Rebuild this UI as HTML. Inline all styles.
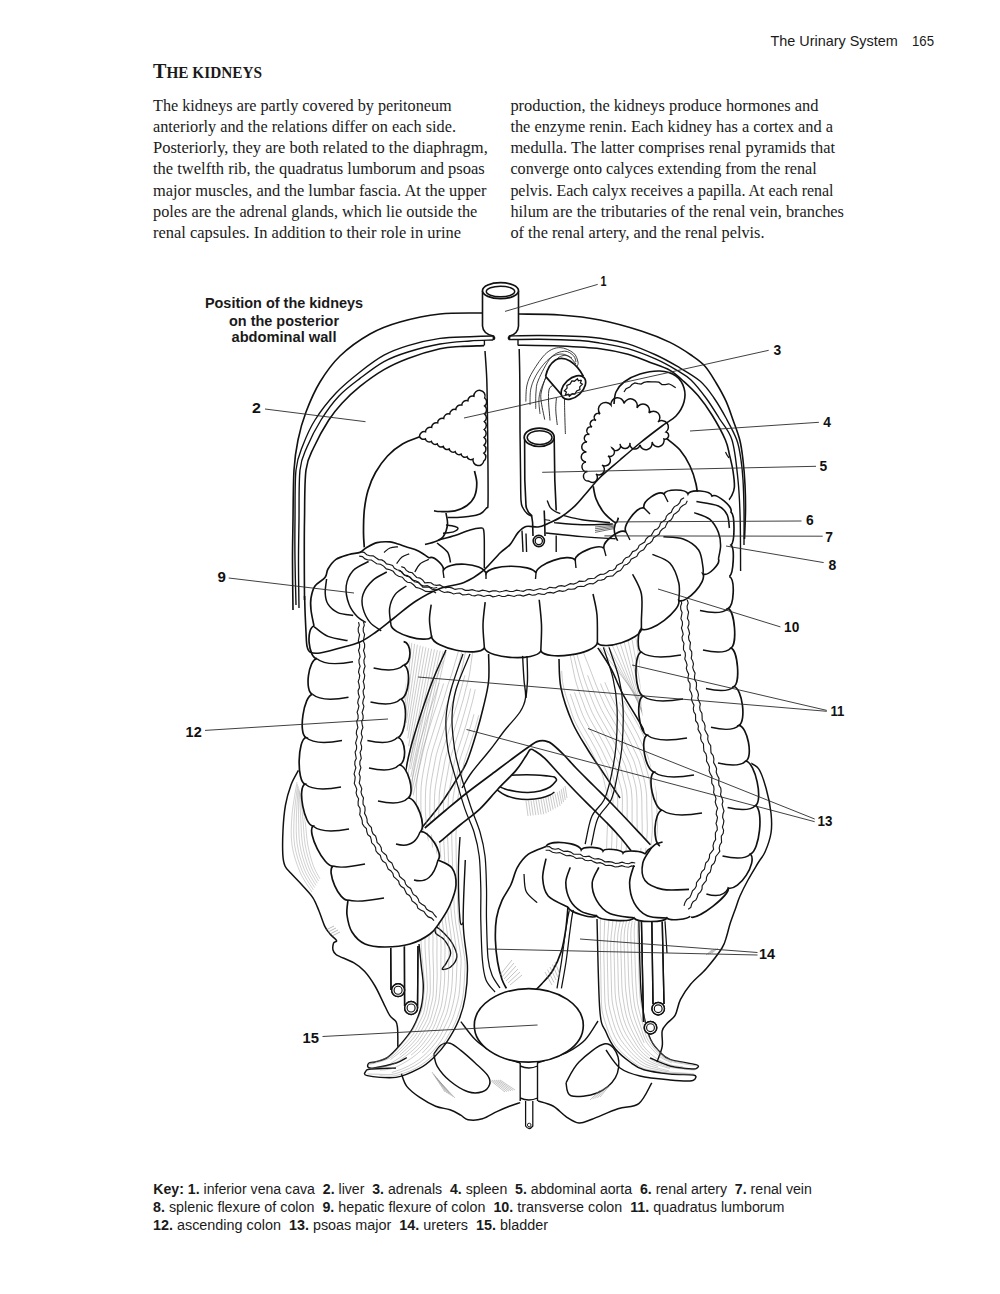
<!DOCTYPE html>
<html><head><meta charset="utf-8"><title>The Urinary System - The kidneys</title>
<style>
html,body{margin:0;padding:0;background:#fff;}
body{width:1000px;height:1294px;overflow:hidden;}
svg{display:block;}
.ser{font-family:"Liberation Serif",serif;fill:#1a1a1a;}
.san{font-family:"Liberation Sans",sans-serif;fill:#1a1a1a;}
.lab{font-family:"Liberation Sans",sans-serif;font-weight:bold;font-size:14px;fill:#111;}
</style></head>
<body>
<svg width="1000" height="1294" viewBox="0 0 1000 1294">
<rect width="1000" height="1294" fill="#fff"/>
<g class="san" font-size="14.2">
<text x="770.5" y="45.9" textLength="127.3" lengthAdjust="spacingAndGlyphs">The Urinary System</text>
<text x="912" y="45.9" textLength="22" lengthAdjust="spacingAndGlyphs">165</text>
</g>
<text class="ser" x="153" y="78" font-weight="bold" textLength="109" lengthAdjust="spacingAndGlyphs"><tspan font-size="21">T</tspan><tspan font-size="16">HE KIDNEYS</tspan></text>
<g class="ser" font-size="17">
<text x="153" y="110.8" textLength="298.7" lengthAdjust="spacingAndGlyphs">The kidneys are partly covered by peritoneum</text>
<text x="153" y="132" textLength="303" lengthAdjust="spacingAndGlyphs">anteriorly and the relations differ on each side.</text>
<text x="153" y="153.1" textLength="334.8" lengthAdjust="spacingAndGlyphs">Posteriorly, they are both related to the diaphragm,</text>
<text x="153" y="174.3" textLength="331.8" lengthAdjust="spacingAndGlyphs">the twelfth rib, the quadratus lumborum and psoas</text>
<text x="153" y="195.5" textLength="333.4" lengthAdjust="spacingAndGlyphs">major muscles, and the lumbar fascia. At the upper</text>
<text x="153" y="216.6" textLength="324.3" lengthAdjust="spacingAndGlyphs">poles are the adrenal glands, which lie outside the</text>
<text x="153" y="237.8" textLength="308" lengthAdjust="spacingAndGlyphs">renal capsules. In addition to their role in urine</text>
<text x="510.4" y="110.8" textLength="308" lengthAdjust="spacingAndGlyphs">production, the kidneys produce hormones and</text>
<text x="510.4" y="132" textLength="322.6" lengthAdjust="spacingAndGlyphs">the enzyme renin. Each kidney has a cortex and a</text>
<text x="510.4" y="153.1" textLength="324.6" lengthAdjust="spacingAndGlyphs">medulla. The latter comprises renal pyramids that</text>
<text x="510.4" y="174.3" textLength="306.3" lengthAdjust="spacingAndGlyphs">converge onto calyces extending from the renal</text>
<text x="510.4" y="195.5" textLength="323.1" lengthAdjust="spacingAndGlyphs">pelvis. Each calyx receives a papilla. At each renal</text>
<text x="510.4" y="216.6" textLength="333.6" lengthAdjust="spacingAndGlyphs">hilum are the tributaries of the renal vein, branches</text>
<text x="510.4" y="237.8" textLength="254.1" lengthAdjust="spacingAndGlyphs">of the renal artery, and the renal pelvis.</text>
</g>
<g class="san" font-weight="bold" font-size="14.6" text-anchor="middle">
<text x="284" y="307.5" textLength="158.2" lengthAdjust="spacingAndGlyphs">Position of the kidneys</text>
<text x="284" y="325.6" textLength="110" lengthAdjust="spacingAndGlyphs">on the posterior</text>
<text x="284" y="342.4" textLength="105" lengthAdjust="spacingAndGlyphs">abdominal wall</text>
</g>
<path d="M482.0,313.0 C475.0,313.2 453.7,312.5 440.0,314.0 C426.3,315.5 411.7,318.7 400.0,322.0 C388.3,325.3 380.0,328.3 370.0,334.0 C360.0,339.7 348.3,348.0 340.0,356.0 C331.7,364.0 325.7,372.7 320.0,382.0 C314.3,391.3 309.7,402.3 306.0,412.0 C302.3,421.7 300.0,430.3 298.0,440.0 C296.0,449.7 294.8,456.7 294.0,470.0 C293.2,483.3 293.2,505.0 293.0,520.0 C292.8,535.0 292.5,545.0 292.5,560.0 C292.5,575.0 292.9,601.7 293.0,610.0" fill="none" stroke="#111" stroke-width="1.61" />
<path d="M493.0,336.0 C489.2,336.1 478.8,336.4 470.0,336.8 C461.2,337.2 450.3,336.9 440.0,338.4 C429.7,339.9 417.3,342.8 408.0,345.6 C398.7,348.4 392.0,350.8 384.0,355.2 C376.0,359.6 368.0,365.7 360.0,372.0 C352.0,378.3 343.5,385.0 336.0,393.0 C328.5,401.0 320.5,411.3 315.0,420.0 C309.5,428.7 306.2,436.7 303.0,445.0 C299.8,453.3 297.3,457.5 296.0,470.0 C294.7,482.5 295.2,505.0 295.0,520.0 C294.8,535.0 294.8,545.8 295.0,560.0 C295.2,574.2 295.8,597.5 296.0,605.0" fill="none" stroke="#111" stroke-width="1.38" />
<path d="M493.0,340.0 C489.2,340.2 478.8,340.3 470.0,341.0 C461.2,341.7 450.3,342.2 440.0,344.0 C429.7,345.8 417.3,349.1 408.0,352.0 C398.7,354.9 392.0,357.2 384.0,361.6 C376.0,366.0 367.5,372.7 360.0,378.4 C352.5,384.1 345.5,389.1 339.0,396.0 C332.5,402.9 326.3,411.5 321.0,420.0 C315.7,428.5 310.5,438.7 307.0,447.0 C303.5,455.3 301.3,457.8 300.0,470.0 C298.7,482.2 299.2,505.0 299.0,520.0 C298.8,535.0 298.5,545.3 298.5,560.0 C298.5,574.7 298.9,600.0 299.0,608.0" fill="none" stroke="#111" stroke-width="1.38" />
<path d="M484.0,345.6 C480.0,345.8 467.3,346.0 460.0,346.5 C452.7,347.0 448.7,346.8 440.0,348.8 C431.3,350.8 417.3,354.9 408.0,358.4 C398.7,361.9 392.0,364.9 384.0,369.6 C376.0,374.3 367.0,380.8 360.0,386.4 C353.0,392.0 347.2,397.6 342.0,403.2 C336.8,408.8 333.5,412.7 328.8,420.0 C324.1,427.3 317.8,438.7 314.0,447.0 C310.2,455.3 307.6,457.8 306.0,470.0 C304.4,482.2 304.8,505.0 304.5,520.0 C304.2,535.0 304.3,546.7 304.3,560.0 C304.3,573.3 304.5,593.3 304.5,600.0" fill="none" stroke="#111" stroke-width="1.61" />
<path d="M519.0,314.0 C525.8,314.2 546.5,314.0 560.0,315.0 C573.5,316.0 586.3,317.3 600.0,320.0 C613.7,322.7 630.3,327.5 642.0,331.2 C653.7,334.9 661.8,338.4 670.0,342.4 C678.2,346.4 685.2,351.0 691.0,355.0 C696.8,359.0 700.8,361.5 705.0,366.2 C709.2,370.9 712.7,377.2 716.2,383.0 C719.7,388.8 723.2,395.0 726.0,401.2 C728.8,407.4 730.7,413.5 733.0,420.0 C735.3,426.5 738.1,433.3 739.8,440.0 C741.5,446.7 742.1,452.5 743.0,460.0 C743.9,467.5 744.6,476.7 745.0,485.0 C745.4,493.3 745.6,501.0 745.5,510.0 C745.4,519.0 744.7,534.2 744.5,539.0" fill="none" stroke="#111" stroke-width="1.61" />
<path d="M509.6,336.0 C514.7,335.9 528.3,335.4 540.0,335.5 C551.7,335.6 570.0,336.1 580.0,336.5 C590.0,336.9 592.0,337.0 600.0,338.2 C608.0,339.4 618.7,341.0 628.0,343.8 C637.3,346.6 647.8,351.3 656.0,355.0 C664.2,358.7 669.7,361.9 677.0,366.2 C684.3,370.5 693.8,375.7 700.0,381.0 C706.2,386.3 709.7,391.8 714.0,398.0 C718.3,404.2 722.2,411.0 726.0,418.0 C729.8,425.0 734.3,433.0 736.8,440.0 C739.3,447.0 740.0,453.3 741.0,460.0 C742.0,466.7 742.5,471.7 743.0,480.0 C743.5,488.3 743.8,499.2 744.0,510.0 C744.2,520.8 744.0,539.2 744.0,545.0" fill="none" stroke="#111" stroke-width="1.38" />
<path d="M509.6,339.6 C514.7,339.5 528.3,339.1 540.0,339.2 C551.7,339.3 570.0,339.9 580.0,340.5 C590.0,341.1 592.0,341.7 600.0,343.1 C608.0,344.5 618.7,346.0 628.0,348.7 C637.3,351.4 647.8,355.6 656.0,359.2 C664.2,362.8 671.2,366.9 677.0,370.4 C682.8,373.9 686.2,375.4 691.0,380.0 C695.8,384.6 701.3,391.7 706.0,398.0 C710.7,404.3 714.7,411.0 719.0,418.0 C723.3,425.0 728.8,429.7 732.0,440.0 C735.2,450.3 736.6,466.7 738.0,480.0 C739.4,493.3 739.8,504.8 740.2,520.0 C740.6,535.2 740.5,562.5 740.6,571.0" fill="none" stroke="#111" stroke-width="1.38" />
<path d="M518.0,345.2 C525.0,345.3 546.3,345.4 560.0,346.0 C573.7,346.6 588.7,347.3 600.0,348.7 C611.3,350.1 619.8,352.1 628.0,354.3 C636.2,356.5 642.0,359.3 649.0,362.0 C656.0,364.7 664.2,367.1 670.0,370.4 C675.8,373.7 679.3,377.4 684.0,381.6 C688.7,385.8 693.3,390.0 698.0,395.6 C702.7,401.2 707.4,407.6 712.0,415.0 C716.6,422.4 722.5,433.3 725.4,440.0 C728.3,446.7 728.2,449.8 729.5,455.0 C730.8,460.2 732.2,465.7 733.0,471.0 C733.8,476.3 734.6,482.8 734.4,487.0 C734.1,491.2 732.7,493.5 731.5,496.0 C730.3,498.5 727.8,501.0 727.0,502.0" fill="none" stroke="#111" stroke-width="1.61" />
<path d="M725.5,452.0 C725.8,452.5 726.4,454.0 727.0,455.0 C727.6,456.0 728.7,457.5 729.0,458.0" fill="none" stroke="#111" stroke-width="1.26" />
<path d="M482.5,291 L482.5,326 Q483,334 493.4,336 L493.4,340 M518.5,291 L518.5,326 Q518,334 509.6,336 L509.6,340" fill="none" stroke="#111" stroke-width="1.61"/>
<ellipse cx="500.5" cy="290.7" rx="18" ry="8" fill="#fff" stroke="#111" stroke-width="1.72"/>
<ellipse cx="500.5" cy="291.5" rx="14.2" ry="5.3" fill="none" stroke="#111" stroke-width="1.49"/>
<line x1="484.4" y1="340" x2="484.4" y2="345.5" stroke="#111" stroke-width="1.38"/>
<line x1="518" y1="340" x2="518" y2="345.5" stroke="#111" stroke-width="1.38"/>
<path d="M493.4,336 Q496,338 493.4,340 M509.6,336 Q507,338 509.6,340" fill="none" stroke="#111" stroke-width="1.38"/>
<path d="M485.0,351.0 C485.3,355.8 486.4,368.5 486.8,380.0 C487.2,391.5 487.3,405.0 487.5,420.0 C487.7,435.0 487.9,456.0 488.0,470.0 C488.1,484.0 488.2,497.7 488.0,504.0 C487.8,510.3 487.8,506.3 486.5,508.0 C485.2,509.7 483.1,512.6 480.0,514.0 C476.9,515.4 472.2,515.9 468.0,516.5 C463.8,517.1 458.4,517.3 455.0,517.5 C451.6,517.7 448.8,517.5 447.5,517.5" fill="none" stroke="#111" stroke-width="1.49" />
<path d="M519.2,349.0 C519.3,354.2 519.7,366.5 519.8,380.0 C519.9,393.5 519.9,415.0 520.0,430.0 C520.1,445.0 520.3,458.3 520.5,470.0 C520.7,481.7 520.6,494.1 521.0,500.4 C521.4,506.7 522.0,505.8 523.0,508.0 C524.0,510.2 525.5,512.1 527.0,513.5 C528.5,514.9 531.2,516.0 532.0,516.5" fill="none" stroke="#111" stroke-width="1.49" />
<path d="M524.6,437.5 L524.8,480 L526,506 Q527,512 531.6,515.5 L532.6,522.5 L533,536 M554.2,437.5 L554.8,480 L556.2,510.5 M544.2,510.5 L544.7,522.5 L545,536" fill="none" stroke="#111" stroke-width="1.61"/>
<ellipse cx="539.2" cy="437.3" rx="15" ry="9.2" fill="#fff" stroke="#111" stroke-width="1.72"/>
<ellipse cx="539.6" cy="437.6" rx="12.4" ry="6.9" fill="none" stroke="#111" stroke-width="1.49"/>
<circle cx="538.8" cy="541" r="5.6" fill="#fff" stroke="#111" stroke-width="1.61"/>
<circle cx="538.8" cy="541" r="3.6" fill="none" stroke="#111" stroke-width="1.26"/>
<path d="M547.2,500.4 C547.7,501.6 548.9,505.5 550.2,507.4 C551.5,509.2 553.5,510.5 555.2,511.5 C556.9,512.5 559.4,513.2 560.3,513.5" fill="none" stroke="#111" stroke-width="1.38" />
<path d="M544.2,519.5 C545.2,519.7 549.2,520.3 550.2,520.5" fill="none" stroke="#111" stroke-width="1.15" />
<line x1="522" y1="530.6" x2="523" y2="552" stroke="#111" stroke-width="1.38"/>
<line x1="526" y1="533.6" x2="526.6" y2="552" stroke="#111" stroke-width="1.38"/>
<line x1="556.2" y1="535.6" x2="556.2" y2="552" stroke="#111" stroke-width="1.38"/>
<path d="M525.8,401.6 C526.0,398.8 525.8,390.1 527.0,385.0 C528.2,379.9 529.8,376.3 533.0,371.0 C536.2,365.7 542.0,356.9 546.5,353.0 C551.0,349.1 555.5,347.6 560.0,347.6 C564.5,347.6 570.5,350.6 573.5,353.0 C576.5,355.4 577.4,359.8 578.0,362.0 C578.6,364.2 577.2,365.8 577.0,366.5" fill="none" stroke="#1e1e1e" stroke-width="0.85" />
<path d="M535.7,408.8 C535.8,406.0 535.5,396.8 536.0,392.0 C536.5,387.2 535.9,385.8 538.4,380.0 C540.9,374.2 546.6,362.3 551.0,357.5 C555.4,352.7 560.8,351.5 564.5,351.2 C568.2,350.9 571.6,353.9 573.5,355.7 C575.4,357.5 575.6,360.9 576.0,362.0" fill="none" stroke="#1e1e1e" stroke-width="0.85" />
<path d="M544.7,419.6 C544.1,416.3 541.5,405.1 541.0,400.0 C540.5,394.9 540.8,393.7 542.0,389.0 C543.2,384.3 545.3,377.2 548.0,372.0 C550.7,366.8 554.7,360.7 558.0,358.0 C561.3,355.3 565.0,355.0 568.0,356.0 C571.0,357.0 574.7,362.7 576.0,364.0" fill="none" stroke="#1e1e1e" stroke-width="0.90" />
<path d="M550.0,420.5 C549.8,417.1 548.6,405.2 548.5,400.0 C548.4,394.8 548.5,391.4 549.2,389.0 C549.9,386.6 552.2,386.0 552.8,385.4" fill="none" stroke="#1e1e1e" stroke-width="0.90" />
<path d="M530.0,405.0 C530.2,402.2 529.7,393.5 531.0,388.0 C532.3,382.5 534.8,377.0 538.0,372.0 C541.2,367.0 546.0,361.0 550.0,358.0 C554.0,355.0 558.3,354.0 562.0,354.0 C565.7,354.0 570.3,357.3 572.0,358.0" fill="none" stroke="#1e1e1e" stroke-width="0.80" />
<path d="M540.0,414.0 C539.8,411.3 538.5,403.0 539.0,398.0 C539.5,393.0 540.8,389.0 543.0,384.0 C545.2,379.0 548.7,371.7 552.0,368.0 C555.3,364.3 561.2,363.0 563.0,362.0" fill="none" stroke="#1e1e1e" stroke-width="0.80" />
<path d="M557.3,425.0 C557.0,422.5 555.9,414.5 555.8,410.0 C555.6,405.5 556.3,400.0 556.4,398.0" fill="none" stroke="#1e1e1e" stroke-width="0.90" />
<path d="M565.4,434.0 C565.3,430.8 564.9,421.0 564.8,415.0 C564.6,409.0 564.5,400.8 564.5,398.0" fill="none" stroke="#1e1e1e" stroke-width="0.90" />
<path d="M545.6,376.4 Q548,365 555.5,360 Q562,356.5 570,361 Q578,366 583.4,376.4 L562.7,396.2 Z" fill="#fff" stroke="none"/>
<path d="M545.6,376.4 Q548,365 555.5,360 Q562,356.5 570,361 Q578,366 583.4,376.4 M545.6,376.4 L562.7,396.2" fill="none" stroke="#111" stroke-width="1.72"/>
<ellipse cx="573.4" cy="387.5" rx="14.5" ry="9" transform="rotate(-43 573.4 387.5)" fill="#fff" stroke="#111" stroke-width="1.72"/>
<polyline points="584.4,387.5 581.6,389.0 582.3,391.1 578.4,391.4 576.8,393.4 573.4,392.3 570.0,393.4 568.4,391.4 564.5,391.1 565.2,389.0 562.4,387.5 565.2,386.0 564.5,383.9 568.4,383.6 570.0,381.6 573.4,382.7 576.8,381.6 578.4,383.6 582.3,383.9 581.6,386.0 584.4,387.5" transform="rotate(-43 573.4 387.5)" fill="none" stroke="#111" stroke-width="1.26"/>
<path d="M420.5,436.5 C417.5,437.8 408.0,440.8 402.5,444.0 C397.0,447.2 392.0,451.2 387.5,456.0 C383.0,460.8 378.8,466.8 375.5,472.5 C372.2,478.2 369.9,484.2 368.0,490.5 C366.1,496.8 365.1,503.0 364.3,510.0 C363.6,517.0 363.5,526.2 363.5,532.5 C363.5,538.8 364.2,545.0 364.3,547.5" fill="none" stroke="#111" stroke-width="1.72" />
<path d="M474.5,471.0 C474.9,473.0 476.8,478.8 476.8,483.0 C476.8,487.2 476.1,492.8 474.5,496.5 C472.9,500.2 470.2,503.1 467.0,505.5 C463.8,507.9 459.5,509.8 455.0,510.8 C450.5,511.8 443.5,511.5 440.0,511.5 C436.5,511.5 435.0,510.9 434.0,510.8" fill="none" stroke="#111" stroke-width="1.72" />
<path d="M446.0,513.0 C446.2,515.0 448.0,521.0 447.5,525.0 C447.0,529.0 445.0,534.2 443.0,537.0 C441.0,539.8 438.5,540.2 435.5,541.5 C432.5,542.8 426.8,544.0 425.0,544.5" fill="none" stroke="#111" stroke-width="1.61" />
<path d="M446.0,525.0 C447.5,525.2 453.0,525.9 455.0,526.5 C457.0,527.1 458.2,527.8 458.0,528.7 C457.8,529.6 456.0,531.0 453.5,531.8 C451.0,532.6 444.8,533.0 443.0,533.3" fill="none" stroke="#111" stroke-width="1.38" />
<path d="M438.5,540.0 C441.2,539.2 449.8,537.2 455.0,535.5 C460.2,533.8 465.8,531.2 470.0,530.0 C474.2,528.8 478.2,528.1 480.5,528.0 C482.8,527.9 482.9,527.5 483.5,529.5 C484.1,531.5 484.2,533.2 484.3,540.0 C484.4,546.8 484.3,565.0 484.3,570.0" fill="none" stroke="#111" stroke-width="1.49" />
<path d="M437.0,543.0 C438.8,544.5 445.2,548.8 447.5,552.0 C449.8,555.2 450.0,560.8 450.5,562.5" fill="none" stroke="#111" stroke-width="1.49" />
<path d="M419.5,436.3 A4.7,4.7 0 0,1 425.5,431.8 A4.7,4.7 0 0,1 431.6,427.4 A4.7,4.7 0 0,1 437.6,422.9 A4.7,4.7 0 0,1 443.7,418.5 A4.7,4.7 0 0,1 449.7,414.0 A4.7,4.7 0 0,1 455.8,409.6 A4.7,4.7 0 0,1 461.8,405.1 A4.7,4.7 0 0,1 467.9,400.7 A4.7,4.7 0 0,1 473.9,396.2 A5.6,5.6 0 1,1 484.7,398 A4.9,4.9 0 0,1 484.6,405.9 A4.9,4.9 0 0,1 484.5,413.8 A4.9,4.9 0 0,1 484.4,421.6 A4.9,4.9 0 0,1 484.2,429.5 A4.9,4.9 0 0,1 484.1,437.4 A4.9,4.9 0 0,1 484.0,445.2 A4.9,4.9 0 0,1 483.9,453.1 A4.9,4.9 0 0,1 483.8,461.0 A5.4,5.4 0 1,1 473,459.2 A4.0,4.0 0 0,1 467.1,456.7 A4.0,4.0 0 0,1 461.1,454.1 A4.0,4.0 0 0,1 455.2,451.6 A4.0,4.0 0 0,1 449.2,449.0 A4.0,4.0 0 0,1 443.3,446.5 A4.0,4.0 0 0,1 437.3,443.9 A4.0,4.0 0 0,1 431.4,441.4 A4.0,4.0 0 0,1 425.4,438.8 A4.0,4.0 0 0,1 419.5,436.3Z" fill="#fff" stroke="#111" stroke-width="1.49"/>
<path d="M666.0,438.0 C668.3,440.0 676.0,445.3 680.0,450.0 C684.0,454.7 687.3,460.3 690.0,466.0 C692.7,471.7 694.7,478.3 696.0,484.0 C697.3,489.7 697.7,497.3 698.0,500.0" fill="none" stroke="#111" stroke-width="1.72" />
<path d="M593.2,486.2 C593.7,488.3 594.4,494.6 596.0,498.8 C597.6,503.0 600.4,507.9 603.0,511.4 C605.6,514.9 609.2,517.9 611.4,519.8 C613.6,521.7 615.1,523.0 616.3,522.6 C617.5,522.2 618.0,518.5 618.4,517.7" fill="none" stroke="#111" stroke-width="1.72" />
<path d="M615.6,522.6 C615.4,523.8 614.2,527.3 614.2,529.6 C614.2,531.9 615.0,534.7 615.6,536.6 C616.2,538.5 617.4,540.1 617.7,540.8" fill="none" stroke="#111" stroke-width="1.61" />
<path d="M563.8,515.6 C566.8,516.3 574.3,518.6 582.0,519.8 C589.7,521.0 605.3,522.1 610.0,522.6" fill="none" stroke="#111" stroke-width="1.38" />
<path d="M554.0,522.6 C558.7,523.0 572.2,524.5 582.0,524.7 C591.8,524.9 607.7,524.1 612.8,524.0" fill="none" stroke="#111" stroke-width="1.38" />
<path d="M545.6,533.0 C551.7,533.6 570.3,535.6 582.0,536.6 C593.7,537.6 610.0,538.4 615.6,538.7" fill="none" stroke="#111" stroke-width="1.38" />
<line x1="595" y1="527.0" x2="614" y2="525.0" stroke="#333" stroke-width="0.70"/>
<line x1="595" y1="528.8" x2="614" y2="526.2" stroke="#333" stroke-width="0.70"/>
<line x1="595" y1="530.6" x2="614" y2="527.4" stroke="#333" stroke-width="0.70"/>
<line x1="595" y1="532.4" x2="614" y2="528.6" stroke="#333" stroke-width="0.70"/>
<path d="M589.0,481.0 A3.6,3.6 0 0,1 587.5,471.5 A3.6,3.6 0 0,1 586.0,462.0 A3.6,3.6 0 0,1 586.5,452.0 A3.6,3.6 0 0,1 587.0,442.0 A3.6,3.6 0 0,1 589.5,434.5 A3.6,3.6 0 0,1 592.0,427.0 A3.6,3.6 0 0,1 596.0,420.5 A3.6,3.6 0 0,1 600.0,414.0 A3.6,3.6 0 0,1 611.0,405.0 A3.6,3.6 0 0,1 624.0,403.5 A3.6,3.6 0 0,1 637.0,408.0 A3.6,3.6 0 0,1 649.0,413.0 A3.6,3.6 0 0,1 658.0,422.0 A3.6,3.6 0 0,1 666.0,432.0 A3.6,3.6 0 0,1 664.0,439.0 A3.6,3.6 0 0,1 652.0,442.0 A3.6,3.6 0 0,1 640.0,445.0 A3.6,3.6 0 0,1 630.0,443.0 A3.6,3.6 0 0,1 620.0,444.0 A3.6,3.6 0 0,1 612.0,448.0 A3.6,3.6 0 0,1 608.0,456.0 A3.6,3.6 0 0,1 602.0,465.0 A3.6,3.6 0 0,1 596.0,474.0 A3.6,3.6 0 0,1 589.0,481.0" fill="#fff" stroke="#111" stroke-width="1.49"/>
<line x1="409.0" y1="642.0" x2="404.0" y2="700.0" stroke="#9a9a9a" stroke-width="0.50"/>
<line x1="411.8" y1="642.9" x2="404.8" y2="707.7" stroke="#9a9a9a" stroke-width="0.50"/>
<line x1="414.6" y1="643.8" x2="405.5" y2="715.4" stroke="#9a9a9a" stroke-width="0.50"/>
<line x1="417.4" y1="644.7" x2="406.3" y2="723.0" stroke="#9a9a9a" stroke-width="0.50"/>
<line x1="420.3" y1="645.6" x2="407.1" y2="730.7" stroke="#9a9a9a" stroke-width="0.50"/>
<line x1="423.1" y1="646.4" x2="407.8" y2="738.4" stroke="#9a9a9a" stroke-width="0.50"/>
<line x1="425.9" y1="647.3" x2="408.6" y2="746.1" stroke="#9a9a9a" stroke-width="0.50"/>
<line x1="428.7" y1="648.2" x2="409.4" y2="753.8" stroke="#9a9a9a" stroke-width="0.50"/>
<line x1="431.6" y1="648.8" x2="410.1" y2="761.5" stroke="#9a9a9a" stroke-width="0.50"/>
<line x1="434.5" y1="649.4" x2="410.5" y2="769.2" stroke="#9a9a9a" stroke-width="0.50"/>
<line x1="437.4" y1="650.1" x2="410.8" y2="776.9" stroke="#9a9a9a" stroke-width="0.50"/>
<line x1="440.2" y1="650.7" x2="411.2" y2="784.6" stroke="#9a9a9a" stroke-width="0.50"/>
<line x1="443.1" y1="651.4" x2="411.6" y2="792.3" stroke="#9a9a9a" stroke-width="0.50"/>
<line x1="446.0" y1="652.0" x2="412.0" y2="800.0" stroke="#9a9a9a" stroke-width="0.50"/>
<line x1="600.0" y1="648.0" x2="640.0" y2="700.0" stroke="#9a9a9a" stroke-width="0.50"/>
<line x1="604.0" y1="646.9" x2="641.4" y2="705.5" stroke="#9a9a9a" stroke-width="0.50"/>
<line x1="608.0" y1="645.8" x2="642.7" y2="710.9" stroke="#9a9a9a" stroke-width="0.50"/>
<line x1="612.0" y1="644.7" x2="644.1" y2="716.4" stroke="#9a9a9a" stroke-width="0.50"/>
<line x1="616.0" y1="643.6" x2="645.5" y2="721.8" stroke="#9a9a9a" stroke-width="0.50"/>
<line x1="620.0" y1="642.5" x2="646.8" y2="727.3" stroke="#9a9a9a" stroke-width="0.50"/>
<line x1="624.0" y1="641.5" x2="648.2" y2="732.7" stroke="#9a9a9a" stroke-width="0.50"/>
<line x1="628.0" y1="640.4" x2="649.5" y2="738.2" stroke="#9a9a9a" stroke-width="0.50"/>
<line x1="632.0" y1="639.3" x2="650.9" y2="743.6" stroke="#9a9a9a" stroke-width="0.50"/>
<line x1="636.0" y1="638.2" x2="652.3" y2="749.1" stroke="#9a9a9a" stroke-width="0.50"/>
<line x1="640.0" y1="637.1" x2="653.6" y2="754.5" stroke="#9a9a9a" stroke-width="0.50"/>
<line x1="644.0" y1="636.0" x2="655.0" y2="760.0" stroke="#9a9a9a" stroke-width="0.50"/>
<path d="M446.0,650.0 C443.8,655.2 436.7,670.2 432.5,681.0 C428.3,691.8 424.3,703.7 420.6,715.0 C416.9,726.3 412.9,739.0 410.4,749.0 C407.8,759.0 406.2,766.5 405.3,775.0 C404.4,783.5 404.2,790.8 405.0,800.0 C405.8,809.2 409.2,825.0 410.0,830.0" fill="none" stroke="#111" stroke-width="1.55" />
<path d="M488.6,654.0 C488.6,658.5 489.5,672.2 488.6,681.0 C487.8,689.8 485.5,698.0 483.5,706.5 C481.5,715.0 479.5,722.6 476.7,732.0 C473.9,741.4 470.1,754.3 466.5,762.6 C462.9,770.9 459.4,774.9 455.0,782.0 C450.6,789.1 445.8,797.0 440.0,805.0 C434.2,813.0 423.3,825.8 420.0,830.0" fill="none" stroke="#111" stroke-width="1.55" />
<path d="M559.0,659.0 C559.3,663.8 558.8,677.4 561.0,688.0 C563.2,698.6 568.0,712.4 572.5,722.7 C577.0,733.0 582.9,741.6 588.0,750.0 C593.1,758.4 598.1,765.0 603.4,773.0 C608.7,781.0 617.2,793.8 620.0,798.0" fill="none" stroke="#111" stroke-width="1.55" />
<path d="M597.6,647.4 C599.8,650.9 606.8,660.9 611.0,668.6 C615.2,676.3 617.5,684.1 622.7,693.8 C627.9,703.5 636.5,716.3 642.0,726.6 C647.5,736.9 652.1,745.9 655.6,755.6 C659.1,765.3 661.7,773.4 663.3,784.6 C664.9,795.8 665.1,812.1 665.2,823.0 C665.3,833.9 664.2,845.5 664.0,850.0" fill="none" stroke="#111" stroke-width="1.55" />
<path d="M460.0,837.0 C459.7,842.8 458.4,858.2 458.4,872.0 C458.4,885.8 459.2,911.5 460.0,920.0 C460.8,928.5 462.7,922.5 463.2,923.0" fill="none" stroke="#111" stroke-width="1.38" />
<path d="M419.0,944.0 C419.4,947.5 420.5,958.0 421.2,965.0 C421.9,972.0 423.3,979.0 423.3,986.0 C423.3,993.0 422.9,1000.0 421.2,1007.0 C419.4,1014.0 416.3,1021.7 412.8,1028.0 C409.3,1034.3 404.4,1039.9 400.2,1044.8 C396.0,1049.7 391.8,1054.5 387.6,1057.4 C383.4,1060.3 378.1,1061.1 375.0,1062.0 C371.9,1062.9 370.2,1062.2 369.0,1063.0 C367.8,1063.8 367.2,1066.2 368.0,1067.0 C368.8,1067.8 369.3,1068.7 374.0,1068.0 C378.7,1067.3 390.5,1064.7 396.0,1063.0 C401.5,1061.3 405.0,1058.5 406.8,1057.6" fill="none" stroke="#111" stroke-width="1.44" />
<path d="M465.3,860.0 C464.9,870.5 462.9,905.5 463.2,923.0 C463.5,940.5 467.0,952.8 467.4,965.0 C467.8,977.2 466.7,987.4 465.3,996.5 C463.9,1005.6 462.1,1011.9 459.0,1019.6 C455.9,1027.3 450.6,1036.4 446.4,1042.7 C442.2,1049.0 438.3,1053.1 433.8,1057.4 C429.3,1061.7 425.7,1065.1 419.4,1068.4 C413.1,1071.7 404.7,1076.2 396.0,1077.4 C387.3,1078.6 372.2,1076.7 367.2,1075.6 C362.2,1074.5 365.4,1072.1 366.0,1071.0 C366.6,1069.9 366.0,1069.5 371.0,1069.0 C376.0,1068.5 391.8,1068.2 396.0,1068.0" fill="none" stroke="#111" stroke-width="1.44" />
<path d="M597.0,919.0 C597.5,934.2 598.3,991.2 599.8,1010.0 C601.3,1028.8 603.4,1025.5 606.0,1032.0 C608.6,1038.5 611.4,1044.0 615.4,1049.0 C619.4,1054.0 625.2,1058.5 630.0,1062.0 C634.8,1065.5 637.3,1067.8 644.0,1069.8 C650.7,1071.8 661.8,1073.1 670.0,1074.0 C678.2,1074.9 689.2,1074.2 693.4,1075.0 C697.6,1075.8 695.6,1078.0 695.0,1079.0 C694.4,1080.0 694.2,1080.8 690.0,1081.0 C685.8,1081.2 678.3,1080.8 670.0,1080.0 C661.7,1079.2 648.3,1078.0 640.0,1076.0 C631.7,1074.0 625.7,1072.3 620.0,1068.0 C614.3,1063.7 608.3,1053.0 606.0,1050.0" fill="none" stroke="#111" stroke-width="1.44" />
<path d="M638.8,919.0 C639.2,932.0 639.7,977.5 641.4,997.0 C643.1,1016.5 646.1,1026.8 649.2,1036.0 C652.3,1045.2 656.5,1048.1 660.0,1052.0 C663.5,1055.9 664.0,1057.3 670.0,1059.4 C676.0,1061.5 691.5,1063.2 696.0,1064.6 C700.5,1066.0 697.7,1067.3 697.0,1068.0 C696.3,1068.7 696.5,1069.3 692.0,1069.0 C687.5,1068.7 677.0,1067.8 670.0,1066.0 C663.0,1064.2 653.3,1059.3 650.0,1058.0" fill="none" stroke="#111" stroke-width="1.38" />
<path d="M664.8,918.0 C665.2,923.8 666.6,947.2 667.0,953.0" fill="none" stroke="#111" stroke-width="1.26" />
<path d="M522.6,655.5 C522.8,659.6 523.5,672.9 524.0,680.0 C524.5,687.1 526.2,692.7 525.5,698.0 C524.8,703.3 523.4,706.7 520.0,712.0 C516.6,717.3 510.0,723.7 505.0,730.0 C500.0,736.3 495.5,743.0 490.0,750.0 C484.5,757.0 476.7,765.7 472.0,772.0 C467.3,778.3 463.7,785.3 462.0,788.0" fill="none" stroke="#111" stroke-width="1.38" />
<path d="M527.0,655.5 C527.1,659.6 527.7,672.9 527.5,680.0 C527.3,687.1 526.2,695.0 526.0,698.0" fill="none" stroke="#111" stroke-width="1.38" />
<path d="M494.4,783.6 C494.7,782.8 494.4,780.3 496.0,779.0 C497.6,777.7 500.3,776.7 504.0,776.0 C507.7,775.3 512.8,775.2 518.0,775.0 C523.2,774.8 530.0,774.8 535.0,775.0 C540.0,775.2 544.8,775.7 548.0,776.0 C551.2,776.3 552.9,776.3 554.4,777.0 C555.9,777.7 556.4,779.5 556.8,780.0" fill="none" stroke="#111" stroke-width="1.55" />
<path d="M494.4,783.6 C496.2,784.5 501.4,787.7 505.0,789.0 C508.6,790.3 512.2,790.9 516.0,791.5 C519.8,792.1 524.0,792.6 528.0,792.5 C532.0,792.4 536.3,791.9 540.0,791.0 C543.7,790.1 547.2,788.8 550.0,787.0 C552.8,785.2 555.7,781.2 556.8,780.0" fill="none" stroke="#111" stroke-width="1.55" />
<path d="M496.8,789.6 C498.2,790.5 501.8,793.5 505.0,795.0 C508.2,796.5 512.2,797.8 516.0,798.5 C519.8,799.2 523.8,799.6 528.0,799.5 C532.2,799.4 537.3,798.8 541.0,798.0 C544.7,797.2 547.8,796.0 550.0,795.0 C552.2,794.0 553.7,792.5 554.4,792.0" fill="none" stroke="#111" stroke-width="1.49" />
<line x1="526.0" y1="801.0" x2="528.0" y2="816.0" stroke="#888" stroke-width="0.45"/>
<line x1="528.5" y1="800.7" x2="530.6" y2="815.7" stroke="#888" stroke-width="0.45"/>
<line x1="531.0" y1="800.4" x2="533.2" y2="815.4" stroke="#888" stroke-width="0.45"/>
<line x1="533.5" y1="800.1" x2="535.8" y2="815.1" stroke="#888" stroke-width="0.45"/>
<line x1="536.0" y1="799.8" x2="538.5" y2="814.8" stroke="#888" stroke-width="0.45"/>
<line x1="538.5" y1="799.4" x2="541.1" y2="814.5" stroke="#888" stroke-width="0.45"/>
<line x1="541.0" y1="799.1" x2="543.7" y2="814.2" stroke="#888" stroke-width="0.45"/>
<line x1="543.4" y1="798.4" x2="546.2" y2="813.4" stroke="#888" stroke-width="0.45"/>
<line x1="545.7" y1="797.4" x2="548.5" y2="812.1" stroke="#888" stroke-width="0.45"/>
<line x1="548.0" y1="796.4" x2="550.8" y2="810.9" stroke="#888" stroke-width="0.45"/>
<line x1="550.3" y1="795.4" x2="553.1" y2="809.7" stroke="#888" stroke-width="0.45"/>
<line x1="552.6" y1="794.4" x2="555.4" y2="808.4" stroke="#888" stroke-width="0.45"/>
<line x1="554.9" y1="793.4" x2="557.8" y2="807.2" stroke="#888" stroke-width="0.45"/>
<line x1="557.2" y1="792.3" x2="560.1" y2="805.9" stroke="#888" stroke-width="0.45"/>
<line x1="559.3" y1="790.9" x2="561.8" y2="803.9" stroke="#888" stroke-width="0.45"/>
<line x1="561.2" y1="789.3" x2="563.5" y2="802.0" stroke="#888" stroke-width="0.45"/>
<line x1="563.1" y1="787.6" x2="565.3" y2="800.0" stroke="#888" stroke-width="0.45"/>
<line x1="565.0" y1="786.0" x2="567.0" y2="798.0" stroke="#888" stroke-width="0.45"/>
<path d="M298.4,770.4 C297.2,772.8 293.1,779.2 291.0,785.0 C288.9,790.8 286.8,797.5 285.5,805.0 C284.2,812.5 283.4,821.8 283.0,830.0 C282.6,838.2 282.5,848.4 282.8,854.4 C283.1,860.4 283.6,862.8 285.0,866.0 C286.4,869.2 288.4,870.4 291.2,873.6 C294.0,876.8 298.4,881.0 302.0,885.0 C305.6,889.0 310.0,893.3 312.8,897.6 C315.6,901.9 317.0,906.2 319.0,911.0 C321.0,915.8 323.0,922.6 324.8,926.4 C326.6,930.2 328.1,931.6 330.0,934.0 C331.9,936.4 335.9,939.0 336.5,940.5 C337.1,942.0 334.2,941.4 333.6,943.0 C333.0,944.6 332.6,948.1 333.0,950.0 C333.4,951.9 334.8,953.4 336.0,954.5 C337.2,955.6 337.0,955.2 340.0,956.6 C343.0,958.0 349.9,960.5 354.0,962.9 C358.1,965.3 361.0,967.4 364.5,971.3 C368.0,975.1 371.9,980.8 375.0,986.0 C378.1,991.2 380.9,997.9 383.4,1002.8 C385.8,1007.7 387.6,1012.2 389.7,1015.4 C391.8,1018.5 394.7,1019.6 396.0,1021.7 C397.3,1023.8 397.2,1025.6 397.5,1028.0 C397.8,1030.4 397.8,1032.9 397.8,1036.0 C397.9,1039.1 397.8,1045.0 397.8,1046.8" fill="none" stroke="#111" stroke-width="1.49" />
<path d="M297.0,782.0 C296.2,787.5 292.8,804.5 292.0,815.0 C291.2,825.5 290.7,835.5 292.0,845.0 C293.3,854.5 296.7,864.2 300.0,872.0 C303.3,879.8 310.0,888.7 312.0,892.0" fill="none" stroke="#999" stroke-width="0.45" />
<path d="M297.7,784.2 C297.1,789.5 294.7,806.0 294.2,816.1 C293.7,826.2 293.3,835.9 294.6,845.0 C296.0,854.1 299.1,863.4 302.2,870.9 C305.3,878.4 311.5,886.6 313.3,889.8" fill="none" stroke="#999" stroke-width="0.45" />
<path d="M298.3,786.4 C298.0,791.5 296.6,807.4 296.4,817.2 C296.2,827.0 295.9,836.2 297.3,845.0 C298.6,853.8 301.5,862.7 304.4,869.8 C307.3,876.9 312.9,884.6 314.6,887.6" fill="none" stroke="#999" stroke-width="0.45" />
<path d="M299.0,788.6 C298.9,793.5 298.4,808.9 298.6,818.3 C298.8,827.7 298.6,836.6 299.9,845.0 C301.3,853.4 303.9,862.0 306.6,868.7 C309.3,875.4 314.4,882.6 316.0,885.4" fill="none" stroke="#999" stroke-width="0.45" />
<path d="M299.6,790.8 C299.8,795.6 300.3,810.4 300.8,819.4 C301.3,828.4 301.2,837.0 302.6,845.0 C303.9,853.0 306.3,861.2 308.8,867.6 C311.3,874.0 315.9,880.6 317.3,883.2" fill="none" stroke="#999" stroke-width="0.45" />
<path d="M300.3,793.0 C300.8,797.6 302.2,811.8 303.0,820.5 C303.8,829.2 303.9,837.3 305.2,845.0 C306.5,852.7 308.8,860.5 311.0,866.5 C313.2,872.5 317.3,878.6 318.6,881.0" fill="none" stroke="#999" stroke-width="0.45" />
<path d="M301.0,795.2 C301.7,799.6 304.1,813.3 305.2,821.6 C306.3,829.9 306.5,837.7 307.8,845.0 C309.2,852.3 311.2,859.8 313.2,865.4 C315.2,871.0 318.8,876.6 319.9,878.8" fill="none" stroke="#999" stroke-width="0.45" />
<line x1="326.0" y1="930.0" x2="334.0" y2="926.0" stroke="#777" stroke-width="0.50"/>
<line x1="328.0" y1="932.0" x2="336.0" y2="928.0" stroke="#777" stroke-width="0.50"/>
<line x1="330.0" y1="934.0" x2="338.0" y2="930.0" stroke="#777" stroke-width="0.50"/>
<line x1="332.0" y1="936.0" x2="340.0" y2="932.0" stroke="#777" stroke-width="0.50"/>
<path d="M401.4,1073.8 C402.3,1075.9 403.8,1082.5 406.8,1086.4 C409.8,1090.3 414.6,1093.9 419.4,1097.2 C424.2,1100.5 430.5,1104.1 435.6,1106.2 C440.7,1108.3 445.8,1108.3 450.0,1109.8 C454.2,1111.3 457.8,1113.5 460.8,1115.2 C463.8,1116.9 464.4,1119.1 468.0,1119.7 C471.6,1120.3 477.6,1120.2 482.4,1118.8 C487.2,1117.4 492.3,1113.7 496.8,1111.6 C501.3,1109.5 505.5,1107.7 509.4,1106.2 C513.3,1104.7 518.4,1103.2 520.2,1102.6" fill="none" stroke="#111" stroke-width="1.49" />
<path d="M433.8,1054.0 C434.4,1056.1 434.7,1062.1 437.4,1066.6 C440.1,1071.1 444.9,1076.8 450.0,1081.0 C455.1,1085.2 462.6,1090.0 468.0,1091.8 C473.4,1093.6 478.8,1093.0 482.4,1091.8 C486.0,1090.6 488.7,1087.3 489.6,1084.6 C490.5,1081.9 490.2,1079.2 487.8,1075.6 C485.4,1072.0 479.7,1067.2 475.2,1063.0 C470.7,1058.8 465.0,1053.7 460.8,1050.4 C456.6,1047.1 453.3,1044.1 450.0,1043.2 C446.7,1042.3 443.7,1043.2 441.0,1045.0 C438.3,1046.8 435.0,1052.5 433.8,1054.0" fill="none" stroke="#111" stroke-width="1.44" />
<path d="M460.8,1021.6 C463.2,1024.6 470.4,1034.8 475.2,1039.6 C480.0,1044.4 484.8,1047.4 489.6,1050.4 C494.4,1053.4 498.9,1055.5 504.0,1057.6 C509.1,1059.7 517.5,1062.1 520.2,1063.0" fill="none" stroke="#111" stroke-width="1.38" />
<line x1="432.0" y1="1072.0" x2="445.0" y2="1092.0" stroke="#888" stroke-width="0.50"/>
<line x1="433.6" y1="1074.0" x2="447.0" y2="1093.2" stroke="#888" stroke-width="0.50"/>
<line x1="435.2" y1="1076.0" x2="449.0" y2="1094.4" stroke="#888" stroke-width="0.50"/>
<line x1="436.8" y1="1078.0" x2="451.0" y2="1095.6" stroke="#888" stroke-width="0.50"/>
<line x1="438.4" y1="1080.0" x2="453.0" y2="1096.8" stroke="#888" stroke-width="0.50"/>
<line x1="440.0" y1="1082.0" x2="455.0" y2="1098.0" stroke="#888" stroke-width="0.50"/>
<line x1="490.0" y1="1080.0" x2="505.0" y2="1092.0" stroke="#888" stroke-width="0.50"/>
<line x1="492.0" y1="1080.0" x2="507.0" y2="1091.6" stroke="#888" stroke-width="0.50"/>
<line x1="494.0" y1="1080.0" x2="509.0" y2="1091.2" stroke="#888" stroke-width="0.50"/>
<line x1="496.0" y1="1080.0" x2="511.0" y2="1090.8" stroke="#888" stroke-width="0.50"/>
<line x1="498.0" y1="1080.0" x2="513.0" y2="1090.4" stroke="#888" stroke-width="0.50"/>
<line x1="500.0" y1="1080.0" x2="515.0" y2="1090.0" stroke="#888" stroke-width="0.50"/>
<path d="M746.0,761.0 C748.1,762.3 755.2,764.1 758.5,768.6 C761.8,773.1 763.9,780.6 766.0,788.0 C768.1,795.4 770.2,805.5 771.0,813.0 C771.8,820.5 772.0,826.5 771.0,833.0 C770.0,839.5 767.2,847.0 765.0,852.0 C762.8,857.0 760.8,858.3 758.0,863.0 C755.2,867.7 751.0,874.5 748.0,880.0 C745.0,885.5 742.2,891.0 740.0,896.0 C737.8,901.0 736.7,905.3 735.0,910.0 C733.3,914.7 731.4,919.7 730.0,924.0 C728.6,928.3 728.0,932.0 726.7,936.0 C725.4,940.0 725.4,942.6 722.0,948.0 C718.6,953.4 711.6,962.4 706.4,968.4 C701.2,974.4 695.1,978.8 690.8,984.0 C686.5,989.2 683.0,994.4 680.4,999.6 C677.8,1004.8 677.4,1011.3 675.2,1015.2 C673.0,1019.1 669.6,1020.4 667.4,1023.0 C665.2,1025.6 663.1,1026.9 662.2,1030.8 C661.3,1034.7 663.1,1041.2 662.2,1046.4 C661.3,1051.6 657.9,1059.4 657.0,1062.0" fill="none" stroke="#111" stroke-width="1.49" />
<line x1="712.0" y1="950.0" x2="706.0" y2="955.0" stroke="#777" stroke-width="0.50"/>
<line x1="714.0" y1="949.3" x2="708.0" y2="954.3" stroke="#777" stroke-width="0.50"/>
<line x1="716.0" y1="948.7" x2="710.0" y2="953.7" stroke="#777" stroke-width="0.50"/>
<line x1="718.0" y1="948.0" x2="712.0" y2="953.0" stroke="#777" stroke-width="0.50"/>
<path d="M651.8,1082.8 C649.6,1086.3 644.4,1099.3 638.8,1103.6 C633.2,1107.9 625.8,1106.2 618.0,1108.8 C610.2,1111.4 598.5,1116.8 592.0,1119.2 C585.5,1121.6 583.3,1123.4 579.0,1123.0 C574.7,1122.6 570.3,1119.4 566.0,1116.6 C561.7,1113.8 557.7,1108.6 553.0,1106.0 C548.3,1103.4 540.5,1101.8 538.0,1101.0" fill="none" stroke="#111" stroke-width="1.49" />
<path d="M566.0,1082.8 C568.2,1079.3 572.5,1068.5 579.0,1062.0 C585.5,1055.5 598.5,1044.7 605.0,1043.8 C611.5,1042.9 616.3,1051.2 618.0,1056.8 C619.7,1062.4 618.9,1071.6 615.4,1077.6 C611.9,1083.6 604.4,1090.0 597.0,1093.0 C589.6,1096.0 576.2,1097.5 571.0,1095.8 C565.8,1094.1 566.8,1085.0 566.0,1082.8" fill="none" stroke="#111" stroke-width="1.44" />
<path d="M598.0,1021.0 C595.8,1024.2 590.0,1034.8 585.0,1040.0 C580.0,1045.2 573.5,1049.0 568.0,1052.0 C562.5,1055.0 557.2,1056.2 552.0,1058.0 C546.8,1059.8 539.5,1062.2 537.0,1063.0" fill="none" stroke="#111" stroke-width="1.38" />
<line x1="600.0" y1="1090.0" x2="590.0" y2="1100.0" stroke="#888" stroke-width="0.50"/>
<line x1="602.5" y1="1088.8" x2="592.5" y2="1099.2" stroke="#888" stroke-width="0.50"/>
<line x1="605.0" y1="1087.5" x2="595.0" y2="1098.5" stroke="#888" stroke-width="0.50"/>
<line x1="607.5" y1="1086.2" x2="597.5" y2="1097.8" stroke="#888" stroke-width="0.50"/>
<line x1="610.0" y1="1085.0" x2="600.0" y2="1097.0" stroke="#888" stroke-width="0.50"/>
<path d="M390.7,946 L391,990 M404.4,946 L404.6,1006 M418,946 L417.5,1008" fill="none" stroke="#111" stroke-width="1.38"/>
<circle cx="398.1" cy="990.2" r="6.4" fill="#fff" stroke="#111" stroke-width="1.49"/><circle cx="398.1" cy="990.2" r="4" fill="none" stroke="#111" stroke-width="1.15"/>
<circle cx="411.1" cy="1008" r="6.4" fill="#fff" stroke="#111" stroke-width="1.49"/><circle cx="411.1" cy="1008" r="4" fill="none" stroke="#111" stroke-width="1.15"/>
<path d="M641.4,919 L643.5,1022 M651.8,919 L653,1004 M662.2,919 L664,1004" fill="none" stroke="#111" stroke-width="1.38"/>
<circle cx="658.2" cy="1008.7" r="6.2" fill="#fff" stroke="#111" stroke-width="1.49"/><circle cx="658.2" cy="1008.7" r="3.9" fill="none" stroke="#111" stroke-width="1.15"/>
<circle cx="650.5" cy="1027.7" r="6.2" fill="#fff" stroke="#111" stroke-width="1.49"/><circle cx="650.5" cy="1027.7" r="3.9" fill="none" stroke="#111" stroke-width="1.15"/>
<path d="M436.0,927.0 C437.4,927.0 441.5,930.7 444.3,933.5 C447.1,936.3 450.6,940.1 452.7,944.0 C454.8,947.9 457.2,952.8 456.9,956.6 C456.5,960.4 453.1,964.9 450.6,967.0 C448.2,969.1 442.9,969.9 442.2,969.2 C441.5,968.5 445.0,965.7 446.4,962.9 C447.8,960.1 451.0,956.2 450.6,952.4 C450.2,948.5 446.7,942.9 444.3,939.8 C441.9,936.6 437.4,935.6 436.0,933.5 C434.6,931.4 434.6,927.0 436.0,927.0Z" fill="#fff" stroke="#111" stroke-width="1.38" />
<path d="M443.4,660.7 C442.7,662.5 440.5,667.8 439.0,671.3 C437.6,674.8 436.0,678.3 434.6,681.9 C433.2,685.4 432.1,689.1 430.9,692.7 C429.6,696.3 428.4,700.0 427.1,703.6 C425.9,707.2 424.6,710.8 423.4,714.4 C422.2,718.1 421.1,721.7 420.0,725.4 C418.9,729.1 417.8,732.7 416.7,736.4 C415.6,740.1 414.4,743.7 413.4,747.4 C412.4,751.1 411.7,754.9 411.0,758.6 C410.2,762.3 409.4,766.1 408.8,769.9 C408.2,773.6 407.8,777.4 407.5,781.2 C407.3,785.0 407.3,788.9 407.4,792.7 C407.4,796.5 407.4,800.4 407.7,804.1 C408.1,807.9 408.9,811.7 409.5,815.5 C410.1,819.3 410.8,823.0 411.3,826.8 C411.9,830.6 412.4,834.4 412.9,838.2 C413.3,842.0 413.8,845.8 414.2,849.6 C414.7,853.4 415.2,857.2 415.6,861.0 C416.1,864.8 416.5,868.6 417.0,872.4 C417.4,876.2 417.7,880.0 418.1,883.8 C418.4,887.6 418.8,891.4 419.2,895.2 C419.6,899.0 420.1,902.8 420.4,906.6 C420.7,910.4 420.8,914.3 420.9,918.1 C421.0,921.9 421.0,925.7 421.0,929.6 C421.0,933.4 420.9,937.2 421.0,941.0 C421.1,944.9 421.4,948.7 421.6,952.5 C421.9,956.3 422.4,960.1 422.7,963.9 C423.1,967.7 423.4,971.5 423.7,975.3 C424.0,979.1 424.6,982.9 424.6,986.7 C424.6,990.5 423.9,994.3 423.4,998.0 C423.0,1001.8 422.9,1005.7 421.9,1009.3 C420.9,1013.0 419.0,1016.4 417.4,1019.9 C415.9,1023.4 414.7,1027.0 412.7,1030.3 C410.8,1033.5 408.1,1036.4 405.7,1039.3 C403.3,1042.3 401.0,1045.3 398.4,1048.0 C395.8,1050.8 393.2,1053.8 390.1,1055.9 C387.1,1058.0 383.5,1059.1 379.9,1060.4 C376.4,1061.7 370.8,1063.0 368.9,1063.5" fill="none" stroke="#8c8c8c" stroke-width="0.45" />
<path d="M439.1,682.7 C438.5,684.5 436.7,690.0 435.5,693.7 C434.3,697.3 433.0,701.0 431.8,704.6 C430.6,708.3 429.3,711.9 428.1,715.6 C426.9,719.3 425.8,723.0 424.7,726.7 C423.6,730.4 422.5,734.0 421.3,737.7 C420.2,741.4 419.0,745.1 418.0,748.8 C417.0,752.5 416.4,756.3 415.6,760.1 C414.8,763.9 414.0,767.7 413.4,771.5 C412.8,775.3 412.3,779.1 412.1,782.9 C411.8,786.8 411.9,790.6 411.9,794.5 C411.9,798.3 411.9,802.2 412.2,806.0 C412.5,809.8 413.2,813.6 413.7,817.5 C414.3,821.3 414.9,825.1 415.4,828.9 C415.9,832.7 416.4,836.5 416.8,840.4 C417.3,844.2 417.7,848.0 418.1,851.9 C418.5,855.7 418.9,859.5 419.4,863.3 C419.8,867.2 420.3,871.0 420.6,874.8 C421.0,878.7 421.3,882.5 421.7,886.4 C422.1,890.2 422.4,894.0 422.8,897.9 C423.2,901.7 423.8,905.5 424.1,909.4 C424.4,913.2 424.6,917.1 424.8,920.9 C424.9,924.7 425.0,928.6 425.0,932.5 C425.0,936.3 424.9,940.2 425.0,944.0 C425.0,947.9 425.3,951.7 425.5,955.6 C425.7,959.4 426.1,963.2 426.3,967.0 C426.6,970.9 426.8,974.7 426.9,978.5 C427.1,982.3 427.6,986.1 427.4,989.9 C427.2,993.7 426.4,997.5 425.8,1001.3 C425.2,1005.0 424.9,1008.9 423.8,1012.5 C422.7,1016.1 420.7,1019.5 419.0,1023.0 C417.4,1026.4 416.0,1030.0 413.9,1033.1 C411.9,1036.3 409.1,1039.1 406.6,1042.0 C404.1,1044.8 401.6,1047.7 398.9,1050.3 C396.2,1052.9 393.5,1055.8 390.3,1057.7 C387.1,1059.7 383.5,1060.6 379.9,1061.8 C376.3,1062.9 370.6,1064.1 368.8,1064.6" fill="none" stroke="#8c8c8c" stroke-width="0.45" />
<path d="M443.6,683.5 C443.0,685.4 441.3,690.9 440.1,694.6 C438.9,698.3 437.7,702.0 436.5,705.7 C435.3,709.4 434.0,713.1 432.8,716.8 C431.7,720.5 430.6,724.2 429.4,727.9 C428.3,731.6 427.1,735.3 426.0,739.1 C424.9,742.8 423.6,746.5 422.6,750.2 C421.6,754.0 421.0,757.8 420.2,761.6 C419.5,765.4 418.6,769.3 418.0,773.1 C417.4,776.9 416.9,780.8 416.6,784.6 C416.4,788.5 416.4,792.4 416.4,796.3 C416.4,800.2 416.3,804.0 416.6,807.9 C416.9,811.8 417.5,815.6 418.0,819.4 C418.4,823.3 419.0,827.1 419.5,831.0 C419.9,834.8 420.4,838.7 420.8,842.5 C421.2,846.4 421.5,850.3 421.9,854.1 C422.3,858.0 422.7,861.9 423.1,865.7 C423.5,869.6 424.0,873.5 424.3,877.3 C424.7,881.2 425.0,885.1 425.3,888.9 C425.7,892.8 426.1,896.7 426.5,900.5 C426.9,904.4 427.4,908.3 427.8,912.1 C428.2,916.0 428.4,919.9 428.6,923.7 C428.8,927.6 429.0,931.5 429.0,935.4 C429.1,939.2 428.9,943.1 428.9,947.0 C429.0,950.9 429.2,954.8 429.3,958.6 C429.5,962.5 429.8,966.4 430.0,970.2 C430.1,974.1 430.1,977.9 430.2,981.7 C430.2,985.6 430.5,989.4 430.2,993.2 C429.8,997.0 428.9,1000.7 428.2,1004.5 C427.4,1008.2 427.0,1012.0 425.7,1015.6 C424.5,1019.2 422.4,1022.6 420.6,1026.0 C418.9,1029.4 417.3,1032.9 415.1,1036.0 C412.9,1039.1 410.1,1041.9 407.5,1044.6 C404.9,1047.4 402.2,1050.1 399.4,1052.6 C396.5,1055.1 392.0,1058.4 390.5,1059.6" fill="none" stroke="#8c8c8c" stroke-width="0.45" />
<path d="M458.4,651.2 C457.9,653.0 456.3,658.6 455.2,662.2 C454.1,665.9 453.1,669.6 452.0,673.3 C450.8,677.0 449.3,680.6 448.1,684.4 C446.9,688.1 445.9,691.8 444.8,695.6 C443.6,699.3 442.4,703.0 441.2,706.8 C440.0,710.5 438.7,714.2 437.6,717.9 C436.4,721.7 435.3,725.4 434.1,729.2 C433.0,732.9 431.8,736.7 430.6,740.4 C429.5,744.1 428.2,747.8 427.2,751.6 C426.2,755.4 425.6,759.3 424.9,763.1 C424.1,767.0 423.3,770.8 422.7,774.7 C422.1,778.6 421.5,782.4 421.2,786.3 C420.9,790.2 420.9,794.1 420.9,798.1 C420.9,802.0 420.8,805.9 421.0,809.8 C421.2,813.7 421.8,817.5 422.2,821.4 C422.6,825.3 423.1,829.2 423.5,833.1 C424.0,836.9 424.3,840.8 424.7,844.7 C425.1,848.6 425.4,852.5 425.8,856.4 C426.2,860.3 426.5,864.2 426.9,868.1 C427.3,872.0 427.7,875.9 428.0,879.8 C428.4,883.7 428.6,887.6 428.9,891.5 C429.3,895.4 429.7,899.3 430.1,903.2 C430.5,907.1 431.1,911.0 431.5,914.9 C431.9,918.7 432.2,922.6 432.4,926.5 C432.7,930.4 432.9,934.3 433.0,938.3 C433.1,942.2 432.9,946.1 432.9,950.0 C432.9,953.9 433.1,957.8 433.2,961.7 C433.3,965.6 433.5,969.5 433.6,973.4 C433.6,977.2 433.5,981.1 433.4,985.0 C433.3,988.8 433.4,992.6 433.0,996.4 C432.5,1000.2 431.4,1004.0 430.5,1007.7 C429.6,1011.4 429.0,1015.2 427.6,1018.8 C426.2,1022.3 424.1,1025.7 422.2,1029.1 C420.4,1032.4 418.6,1035.8 416.3,1038.8 C414.0,1041.9 411.1,1044.6 408.4,1047.3 C405.6,1049.9 401.3,1053.6 399.9,1054.9" fill="none" stroke="#8c8c8c" stroke-width="0.45" />
<path d="M462.0,651.5 C461.5,653.4 460.1,659.0 459.1,662.7 C458.2,666.5 457.3,670.3 456.3,674.0 C455.2,677.7 453.8,681.4 452.7,685.2 C451.5,688.9 450.5,692.8 449.4,696.5 C448.2,700.3 447.1,704.1 445.9,707.8 C444.7,711.6 443.5,715.3 442.3,719.1 C441.1,722.9 440.0,726.7 438.8,730.4 C437.7,734.2 436.5,738.0 435.3,741.7 C434.1,745.5 432.8,749.2 431.8,753.1 C430.8,756.9 430.2,760.8 429.5,764.7 C428.7,768.5 427.9,772.4 427.3,776.3 C426.7,780.2 426.1,784.1 425.8,788.0 C425.4,791.9 425.5,795.9 425.4,799.8 C425.4,803.8 425.3,807.7 425.4,811.7 C425.6,815.6 426.0,819.5 426.4,823.4 C426.8,827.3 427.2,831.2 427.6,835.1 C428.0,839.1 428.3,843.0 428.7,846.9 C429.0,850.8 429.3,854.8 429.6,858.7 C430.0,862.6 430.3,866.6 430.7,870.5 C431.0,874.4 431.4,878.3 431.7,882.3 C432.0,886.2 432.2,890.1 432.6,894.1 C432.9,898.0 433.3,901.9 433.7,905.9 C434.2,909.8 434.8,913.7 435.2,917.6 C435.6,921.5 436.0,925.4 436.3,929.4 C436.6,933.3 436.9,937.2 437.0,941.1 C437.1,945.1 436.9,949.0 436.9,953.0 C436.9,956.9 437.0,960.9 437.0,964.8 C437.1,968.7 437.2,972.6 437.2,976.5 C437.1,980.4 436.9,984.3 436.7,988.2 C436.4,992.0 436.4,995.9 435.7,999.7 C435.1,1003.4 433.9,1007.2 432.9,1010.9 C431.9,1014.6 431.1,1018.4 429.6,1021.9 C428.0,1025.5 425.9,1028.8 423.8,1032.1 C421.8,1035.4 419.9,1038.7 417.5,1041.7 C415.0,1044.7 412.1,1047.3 409.2,1049.9 C406.4,1052.5 403.4,1054.9 400.4,1057.2 C397.3,1059.4 392.4,1062.3 390.8,1063.3" fill="none" stroke="#8c8c8c" stroke-width="0.45" />
<path d="M465.5,651.8 C465.1,653.7 463.9,659.4 463.1,663.3 C462.2,667.1 461.6,670.9 460.6,674.7 C459.6,678.5 458.3,682.2 457.2,686.0 C456.1,689.8 455.1,693.7 454.0,697.5 C452.9,701.3 451.7,705.1 450.6,708.9 C449.4,712.7 448.2,716.5 447.0,720.3 C445.9,724.1 444.7,727.9 443.5,731.7 C442.3,735.5 441.1,739.3 439.9,743.1 C438.7,746.9 437.4,750.6 436.4,754.5 C435.4,758.3 434.9,762.3 434.1,766.2 C433.4,770.1 432.6,774.0 431.9,777.9 C431.3,781.8 430.7,785.7 430.3,789.7 C430.0,793.7 430.0,797.7 429.9,801.6 C429.9,805.6 429.7,809.6 429.9,813.5 C430.0,817.5 430.3,821.4 430.6,825.4 C430.9,829.3 431.4,833.3 431.7,837.2 C432.0,841.2 432.3,845.1 432.6,849.1 C432.9,853.1 433.2,857.0 433.5,861.0 C433.8,864.9 434.1,868.9 434.4,872.9 C434.8,876.8 435.1,880.8 435.4,884.7 C435.7,888.7 435.9,892.7 436.2,896.6 C436.5,900.6 436.9,904.6 437.4,908.5 C437.8,912.5 438.5,916.4 438.9,920.3 C439.4,924.3 439.8,928.2 440.1,932.2 C440.5,936.1 440.9,940.1 441.0,944.0 C441.2,948.0 440.9,952.0 440.9,956.0 C440.8,959.9 440.9,963.9 440.9,967.9 C440.9,971.8 441.0,975.8 440.8,979.7 C440.6,983.6 440.3,987.5 439.9,991.4 C439.5,995.3 439.3,999.1 438.5,1002.9 C437.7,1006.7 436.4,1010.4 435.3,1014.1 C434.1,1017.8 433.1,1021.6 431.5,1025.1 C429.8,1028.6 427.6,1031.9 425.4,1035.2 C423.3,1038.4 421.2,1041.7 418.6,1044.6 C416.1,1047.5 413.1,1050.1 410.1,1052.6 C407.2,1055.0 404.1,1057.3 400.9,1059.4 C397.7,1061.5 394.5,1063.8 391.0,1065.1 C387.5,1066.5 383.6,1066.7 379.8,1067.3 C376.0,1068.0 370.1,1068.5 368.2,1068.8" fill="none" stroke="#8c8c8c" stroke-width="0.45" />
<path d="M464.9,675.3 C464.4,677.3 462.7,683.0 461.7,686.8 C460.6,690.7 459.7,694.6 458.6,698.4 C457.6,702.3 456.4,706.1 455.2,710.0 C454.1,713.8 452.9,717.6 451.8,721.5 C450.6,725.3 449.4,729.1 448.2,732.9 C447.0,736.8 445.8,740.6 444.6,744.4 C443.4,748.2 442.0,752.0 441.0,755.9 C440.0,759.8 439.5,763.7 438.7,767.7 C438.0,771.6 437.2,775.6 436.6,779.5 C435.9,783.5 435.2,787.4 434.9,791.4 C434.5,795.4 434.5,799.4 434.4,803.4 C434.4,807.4 434.2,811.4 434.3,815.4 C434.3,819.4 434.6,823.4 434.8,827.3 C435.1,831.3 435.5,835.3 435.8,839.3 C436.1,843.3 436.3,847.3 436.6,851.3 C436.8,855.3 437.1,859.3 437.3,863.3 C437.6,867.3 437.9,871.2 438.2,875.2 C438.5,879.2 438.8,883.2 439.1,887.2 C439.3,891.2 439.5,895.2 439.8,899.2 C440.1,903.2 440.5,907.2 441.0,911.2 C441.5,915.2 442.1,919.1 442.6,923.1 C443.1,927.1 443.6,931.0 444.0,935.0 C444.4,939.0 444.9,943.0 445.0,946.9 C445.2,950.9 444.9,954.9 444.8,958.9 C444.8,962.9 444.8,967.0 444.7,970.9 C444.7,974.9 444.7,978.9 444.4,982.9 C444.1,986.8 443.7,990.7 443.1,994.6 C442.6,998.5 442.2,1002.4 441.3,1006.1 C440.4,1009.9 438.9,1013.6 437.6,1017.3 C436.3,1021.0 435.2,1024.7 433.4,1028.2 C431.6,1031.7 429.3,1035.0 427.0,1038.2 C424.8,1041.4 422.5,1044.6 419.8,1047.4 C417.2,1050.2 412.5,1053.9 411.0,1055.2" fill="none" stroke="#8c8c8c" stroke-width="0.45" />
<path d="M472.6,652.5 C472.3,654.5 471.5,660.3 470.9,664.3 C470.3,668.2 470.0,672.1 469.2,676.0 C468.4,679.9 467.2,683.8 466.2,687.7 C465.2,691.6 464.3,695.5 463.3,699.4 C462.2,703.3 461.1,707.1 459.9,711.0 C458.8,714.9 457.7,718.8 456.5,722.6 C455.3,726.5 454.1,730.4 452.9,734.2 C451.7,738.1 450.4,741.9 449.2,745.7 C448.0,749.6 446.6,753.4 445.6,757.3 C444.6,761.2 444.1,765.2 443.4,769.2 C442.6,773.2 441.8,777.1 441.2,781.1 C440.5,785.1 439.8,789.1 439.4,793.1 C439.1,797.1 439.1,801.2 439.0,805.2 C438.8,809.2 438.7,813.3 438.7,817.3 C438.7,821.3 438.9,825.3 439.0,829.3 C439.2,833.3 439.6,837.4 439.8,841.4 C440.1,845.4 440.3,849.4 440.5,853.5 C440.7,857.5 440.9,861.5 441.2,865.5 C441.4,869.6 441.7,873.6 442.0,877.6 C442.2,881.6 442.5,885.7 442.8,889.7 C443.0,893.7 443.1,897.8 443.5,901.8 C443.8,905.8 444.1,909.8 444.6,913.8 C445.1,917.8 445.8,921.8 446.3,925.8 C446.9,929.8 447.4,933.8 447.8,937.8 C448.3,941.8 448.9,945.8 449.0,949.8 C449.2,953.9 448.9,957.9 448.8,961.9 C448.7,966.0 448.7,970.0 448.6,974.0 C448.4,978.0 448.4,982.0 448.0,986.0 C447.7,990.0 447.0,993.9 446.4,997.8 C445.7,1001.7 445.2,1005.6 444.1,1009.4 C443.0,1013.2 441.4,1016.9 440.0,1020.5 C438.5,1024.2 437.2,1027.9 435.3,1031.4 C433.4,1034.8 431.0,1038.1 428.6,1041.3 C426.2,1044.4 423.8,1047.5 421.0,1050.3 C418.2,1053.0 415.1,1055.6 411.9,1057.9 C408.7,1060.1 405.3,1062.2 401.9,1064.0 C398.5,1065.8 395.1,1067.8 391.4,1068.8 C387.7,1069.9 381.7,1069.9 379.8,1070.1" fill="none" stroke="#8c8c8c" stroke-width="0.45" />
<path d="M470.7,688.5 C470.2,690.5 468.9,696.4 467.9,700.3 C466.9,704.3 465.7,708.2 464.6,712.1 C463.5,716.0 462.4,719.9 461.2,723.8 C460.1,727.7 458.9,731.6 457.6,735.5 C456.4,739.3 455.1,743.2 453.9,747.1 C452.6,751.0 451.2,754.8 450.2,758.7 C449.2,762.7 448.7,766.7 448.0,770.7 C447.2,774.7 446.5,778.7 445.8,782.7 C445.2,786.7 444.4,790.7 444.0,794.8 C443.6,798.8 443.6,802.9 443.5,807.0 C443.3,811.0 443.2,815.1 443.1,819.2 C443.1,823.2 443.1,827.3 443.3,831.3 C443.4,835.4 443.7,839.4 443.9,843.5 C444.1,847.5 444.3,851.6 444.5,855.6 C444.7,859.7 444.8,863.8 445.0,867.8 C445.3,871.9 445.5,875.9 445.8,880.0 C446.0,884.1 446.2,888.1 446.5,892.2 C446.7,896.2 446.8,900.3 447.1,904.4 C447.4,908.4 447.8,912.5 448.3,916.5 C448.8,920.5 449.5,924.5 450.0,928.6 C450.6,932.6 451.1,936.6 451.6,940.6 C452.1,944.7 452.9,948.7 453.0,952.7 C453.2,956.8 452.9,960.9 452.8,964.9 C452.7,969.0 452.6,973.1 452.4,977.1 C452.2,981.1 452.1,985.2 451.6,989.2 C451.2,993.2 450.4,997.1 449.6,1001.1 C448.8,1005.0 448.1,1008.8 446.9,1012.6 C445.7,1016.4 443.9,1020.1 442.3,1023.7 C440.7,1027.4 439.3,1031.1 437.2,1034.5 C435.2,1037.9 432.7,1041.2 430.2,1044.3 C427.7,1047.4 423.5,1051.7 422.2,1053.1" fill="none" stroke="#8c8c8c" stroke-width="0.45" />
<path d="M475.2,689.3 C474.8,691.3 473.5,697.3 472.5,701.3 C471.5,705.3 470.4,709.2 469.3,713.1 C468.2,717.1 467.1,721.0 466.0,725.0 C464.8,728.9 463.6,732.8 462.3,736.7 C461.1,740.6 459.8,744.5 458.5,748.4 C457.3,752.3 455.8,756.2 454.8,760.1 C453.8,764.1 453.3,768.2 452.6,772.2 C451.9,776.3 451.1,780.3 450.4,784.3 C449.8,788.4 449.0,792.4 448.6,796.5 C448.2,800.5 448.2,804.7 448.0,808.8 C447.8,812.8 447.6,816.9 447.6,821.0 C447.5,825.1 447.4,829.2 447.5,833.3 C447.5,837.4 447.8,841.5 448.0,845.6 C448.1,849.6 448.3,853.7 448.4,857.8 C448.6,861.9 448.7,866.0 448.9,870.1 C449.1,874.2 449.3,878.3 449.5,882.4 C449.7,886.5 449.9,890.6 450.1,894.7 C450.3,898.7 450.4,902.9 450.7,906.9 C451.0,911.0 451.4,915.1 451.9,919.2 C452.4,923.2 453.2,927.3 453.8,931.3 C454.4,935.4 454.9,939.4 455.5,943.5 C456.0,947.5 456.8,951.6 457.0,955.6 C457.3,959.7 456.9,963.8 456.8,967.9 C456.6,972.0 456.5,976.1 456.3,980.2 C456.0,984.2 455.8,988.3 455.2,992.3 C454.7,996.4 453.8,1000.4 452.9,1004.3 C451.9,1008.2 451.0,1012.1 449.7,1015.9 C448.3,1019.6 446.5,1023.3 444.7,1026.9 C443.0,1030.6 441.3,1034.2 439.2,1037.7 C437.0,1041.1 434.5,1044.3 431.8,1047.4 C429.2,1050.5 426.4,1053.4 423.4,1056.0 C420.3,1058.6 417.1,1061.1 413.6,1063.2 C410.2,1065.3 406.5,1067.0 402.9,1068.6 C399.2,1070.1 393.6,1071.9 391.8,1072.5" fill="none" stroke="#8c8c8c" stroke-width="0.45" />
<path d="M474.0,714.2 C473.4,716.2 471.9,722.2 470.7,726.1 C469.5,730.1 468.3,734.0 467.0,738.0 C465.8,741.9 464.4,745.8 463.2,749.7 C461.9,753.7 460.4,757.5 459.4,761.5 C458.4,765.5 458.0,769.7 457.2,773.7 C456.5,777.8 455.8,781.9 455.1,785.9 C454.4,790.0 453.5,794.1 453.1,798.2 C452.7,802.3 452.7,806.4 452.5,810.5 C452.3,814.7 452.1,818.8 452.0,822.9 C451.8,827.0 451.7,831.1 451.7,835.3 C451.7,839.4 451.9,843.5 452.0,847.6 C452.2,851.8 452.3,855.9 452.4,860.0 C452.5,864.1 452.6,868.3 452.7,872.4 C452.9,876.5 453.1,880.6 453.3,884.8 C453.5,888.9 453.7,893.0 453.8,897.1 C454.0,901.3 454.1,905.4 454.3,909.5 C454.6,913.6 455.0,917.7 455.5,921.8 C456.0,925.9 456.8,930.0 457.5,934.1 C458.1,938.1 458.7,942.2 459.3,946.3 C459.9,950.4 460.8,954.4 461.1,958.5 C461.3,962.6 460.9,966.8 460.7,970.9 C460.6,975.0 460.4,979.1 460.1,983.3 C459.8,987.4 459.5,991.5 458.9,995.5 C458.2,999.5 457.2,1003.6 456.1,1007.5 C455.0,1011.4 453.9,1015.3 452.4,1019.1 C450.9,1022.9 449.0,1026.5 447.1,1030.2 C445.2,1033.8 443.4,1037.4 441.1,1040.8 C438.8,1044.2 436.2,1047.5 433.4,1050.5 C430.7,1053.5 427.7,1056.3 424.5,1058.8 C421.4,1061.4 418.0,1063.8 414.5,1065.8 C411.0,1067.8 407.2,1069.4 403.4,1070.8 C399.6,1072.3 395.9,1073.8 391.9,1074.4 C388.0,1075.0 383.8,1074.4 379.7,1074.3 C375.6,1074.2 369.5,1074.1 367.4,1074.0" fill="none" stroke="#8c8c8c" stroke-width="0.45" />
<path d="M478.7,715.3 C478.1,717.3 476.6,723.3 475.4,727.3 C474.3,731.3 473.0,735.3 471.7,739.2 C470.5,743.2 469.1,747.1 467.8,751.1 C466.5,755.0 465.0,758.9 464.0,763.0 C463.0,767.0 462.6,771.2 461.9,775.3 C461.1,779.4 460.4,783.5 459.7,787.6 C459.0,791.7 458.1,795.7 457.7,799.9 C457.2,804.0 457.2,808.2 457.0,812.3 C456.8,816.5 456.6,820.6 456.4,824.8 C456.2,828.9 456.0,833.1 455.9,837.2 C455.9,841.4 456.1,845.6 456.1,849.7 C456.2,853.9 456.2,858.0 456.3,862.2 C456.4,866.4 456.5,870.5 456.6,874.7 C456.7,878.8 456.9,883.0 457.1,887.1 C457.2,891.3 457.4,895.5 457.5,899.6 C457.7,903.8 457.7,907.9 458.0,912.1 C458.2,916.2 458.6,920.4 459.2,924.5 C459.7,928.6 460.5,932.7 461.2,936.8 C461.8,940.9 462.5,945.0 463.2,949.1 C463.8,953.2 464.8,957.3 465.1,961.4 C465.3,965.6 464.9,969.7 464.7,973.9 C464.5,978.0 464.3,982.2 464.0,986.3 C463.6,990.5 463.2,994.6 462.5,998.7 C461.7,1002.7 460.6,1006.8 459.4,1010.7 C458.2,1014.7 456.9,1018.6 455.2,1022.4 C453.6,1026.1 451.5,1029.8 449.4,1033.4 C447.4,1037.0 445.4,1040.6 443.0,1044.0 C440.6,1047.3 437.9,1050.6 435.0,1053.5 C432.1,1056.5 429.0,1059.2 425.7,1061.7 C422.5,1064.2 419.0,1066.5 415.4,1068.4 C411.8,1070.4 407.8,1071.8 403.9,1073.1 C400.0,1074.4 396.1,1075.8 392.1,1076.2 C388.1,1076.7 381.8,1075.8 379.7,1075.7" fill="none" stroke="#8c8c8c" stroke-width="0.45" />
<path d="M561.7,670.9 C561.9,673.0 562.1,679.2 562.8,683.3 C563.5,687.4 564.7,691.4 565.8,695.3 C567.0,699.3 568.5,703.2 569.8,707.2 C571.2,711.1 572.2,715.2 573.8,719.0 C575.4,722.8 577.5,726.4 579.5,730.1 C581.5,733.8 583.7,737.3 585.7,741.0 C587.7,744.6 589.8,748.2 591.7,752.0 C593.5,755.7 595.3,759.5 597.1,763.2 C598.8,767.0 601.0,770.6 602.4,774.5 C603.7,778.4 604.3,782.6 605.3,786.7 C606.3,790.7 607.8,794.7 608.3,798.8 C608.7,802.9 608.1,807.1 607.9,811.3 C607.8,815.5 607.6,819.6 607.5,823.8 C607.3,828.0 607.2,832.1 607.0,836.3 C606.9,840.4 606.8,844.6 606.6,848.8 C606.3,852.9 605.8,857.1 605.5,861.2 C605.1,865.4 604.8,869.5 604.4,873.7 C604.0,877.8 603.7,882.0 603.3,886.1 C602.9,890.3 602.5,894.4 602.1,898.6 C601.7,902.7 601.2,906.8 600.9,911.0 C600.6,915.1 600.4,919.3 600.3,923.4 C600.2,927.6 600.3,931.7 600.3,935.9 C600.3,940.1 600.3,944.2 600.4,948.4 C600.4,952.5 600.5,956.7 600.5,960.8 C600.6,965.0 600.7,969.2 600.8,973.3 C600.9,977.5 601.0,981.7 601.0,985.8 C601.1,990.0 601.1,994.2 601.3,998.3 C601.5,1002.5 601.4,1006.7 602.1,1010.7 C602.8,1014.8 604.1,1018.8 605.4,1022.8 C606.6,1026.7 607.9,1030.7 609.6,1034.5 C611.3,1038.2 613.1,1042.1 615.5,1045.5 C617.9,1048.8 621.0,1051.6 624.0,1054.4 C627.0,1057.2 630.1,1060.0 633.4,1062.3 C636.8,1064.7 640.4,1067.1 644.2,1068.6 C648.0,1070.0 652.2,1070.2 656.3,1071.0 C660.4,1071.8 664.4,1072.7 668.6,1073.2 C672.7,1073.7 676.9,1073.7 681.0,1074.0 C685.2,1074.2 691.4,1074.5 693.5,1074.6" fill="none" stroke="#8c8c8c" stroke-width="0.45" />
<path d="M570.2,693.9 C570.8,695.8 572.9,701.7 574.2,705.6 C575.6,709.5 576.8,713.6 578.4,717.4 C580.0,721.1 582.1,724.7 584.1,728.4 C586.1,732.0 588.2,735.6 590.3,739.2 C592.3,742.8 594.3,746.5 596.2,750.1 C598.1,753.8 599.8,757.6 601.6,761.4 C603.4,765.1 605.5,768.8 606.9,772.6 C608.3,776.5 608.9,780.7 609.9,784.7 C610.9,788.8 612.4,792.8 612.8,796.8 C613.3,800.9 612.8,805.1 612.7,809.2 C612.7,813.4 612.5,817.5 612.4,821.7 C612.3,825.8 612.1,830.0 612.0,834.1 C611.9,838.3 611.9,842.4 611.6,846.6 C611.4,850.7 610.9,854.9 610.6,859.0 C610.2,863.1 609.9,867.3 609.5,871.4 C609.1,875.5 608.8,879.7 608.4,883.8 C608.0,887.9 607.5,892.0 607.0,896.2 C606.5,900.3 606.0,904.4 605.6,908.5 C605.2,912.6 604.9,916.7 604.7,920.8 C604.4,925.0 604.4,929.1 604.3,933.2 C604.1,937.3 603.9,941.4 603.9,945.5 C603.8,949.6 603.9,953.8 603.9,957.9 C604.0,962.0 604.1,966.2 604.2,970.4 C604.3,974.5 604.3,978.7 604.4,982.8 C604.5,987.0 604.5,991.1 604.7,995.3 C604.9,999.4 604.8,1003.6 605.5,1007.6 C606.1,1011.7 607.3,1015.7 608.5,1019.7 C609.7,1023.6 610.8,1027.6 612.4,1031.4 C614.0,1035.2 615.8,1039.1 618.0,1042.4 C620.3,1045.8 623.2,1048.7 626.0,1051.6 C628.7,1054.5 631.6,1057.4 634.8,1059.9 C638.0,1062.4 641.4,1064.9 645.1,1066.5 C648.8,1068.1 652.9,1068.6 656.8,1069.5 C660.8,1070.4 664.8,1071.4 668.9,1072.0 C673.0,1072.6 677.2,1072.7 681.3,1072.9 C685.4,1073.2 691.7,1073.6 693.7,1073.7" fill="none" stroke="#8c8c8c" stroke-width="0.45" />
<path d="M574.5,692.4 C575.2,694.4 577.3,700.2 578.7,704.1 C580.1,708.0 581.3,711.9 583.0,715.7 C584.6,719.5 586.7,723.0 588.7,726.7 C590.7,730.3 592.8,733.8 594.9,737.4 C596.9,741.1 598.9,744.7 600.8,748.3 C602.7,752.0 604.4,755.8 606.1,759.5 C607.9,763.3 610.0,766.9 611.4,770.8 C612.8,774.6 613.5,778.8 614.5,782.8 C615.5,786.8 616.9,790.8 617.4,794.8 C617.9,798.9 617.6,803.1 617.6,807.2 C617.6,811.3 617.4,815.5 617.3,819.6 C617.2,823.7 617.1,827.9 617.0,832.0 C616.9,836.1 617.0,840.3 616.7,844.4 C616.5,848.5 616.0,852.6 615.7,856.8 C615.3,860.9 615.0,865.0 614.6,869.1 C614.2,873.3 614.0,877.4 613.5,881.5 C613.1,885.6 612.4,889.7 611.9,893.7 C611.3,897.8 610.7,901.9 610.2,906.0 C609.7,910.1 609.4,914.2 609.0,918.2 C608.7,922.3 608.5,926.4 608.2,930.4 C607.9,934.5 607.5,938.5 607.4,942.6 C607.2,946.7 607.2,950.8 607.3,955.0 C607.3,959.1 607.5,963.2 607.5,967.4 C607.6,971.5 607.7,975.6 607.8,979.8 C607.9,983.9 607.9,988.1 608.1,992.2 C608.3,996.3 608.3,1000.5 608.8,1004.5 C609.4,1008.6 610.5,1012.6 611.6,1016.6 C612.7,1020.5 613.7,1024.5 615.2,1028.3 C616.7,1032.1 618.4,1036.0 620.5,1039.4 C622.6,1042.8 625.3,1045.8 627.9,1048.9 C630.5,1051.9 633.1,1054.9 636.1,1057.4 C639.1,1060.0 642.5,1062.6 646.0,1064.4 C649.6,1066.2 653.5,1066.9 657.4,1068.0 C661.2,1069.1 667.3,1070.4 669.2,1070.9" fill="none" stroke="#8c8c8c" stroke-width="0.45" />
<path d="M570.3,655.6 C570.7,657.6 571.9,663.5 572.7,667.4 C573.6,671.4 574.2,675.3 575.2,679.2 C576.2,683.2 577.5,687.1 578.8,690.9 C580.1,694.8 581.6,698.7 583.1,702.5 C584.5,706.4 585.8,710.3 587.5,714.0 C589.2,717.8 591.3,721.3 593.3,724.9 C595.3,728.5 597.4,732.1 599.5,735.7 C601.5,739.3 603.5,742.9 605.3,746.5 C607.2,750.2 608.9,754.0 610.7,757.7 C612.4,761.4 614.5,765.0 615.9,768.9 C617.3,772.8 618.0,776.9 619.0,780.8 C620.1,784.8 621.5,788.8 622.0,792.9 C622.6,796.9 622.4,801.0 622.4,805.1 C622.4,809.2 622.3,813.4 622.2,817.5 C622.2,821.6 622.1,825.7 622.0,829.8 C622.0,834.0 622.1,838.1 621.8,842.2 C621.6,846.3 621.1,850.4 620.8,854.5 C620.4,858.6 620.1,862.7 619.7,866.9 C619.3,871.0 619.1,875.1 618.6,879.2 C618.1,883.3 617.4,887.3 616.8,891.3 C616.1,895.4 615.4,899.4 614.9,903.5 C614.3,907.5 613.8,911.6 613.4,915.6 C612.9,919.7 612.6,923.7 612.2,927.7 C611.7,931.7 611.1,935.7 610.9,939.8 C610.6,943.8 610.6,947.9 610.6,952.0 C610.6,956.1 610.8,960.3 610.9,964.4 C611.0,968.5 611.1,972.6 611.2,976.8 C611.3,980.9 611.3,985.0 611.5,989.1 C611.7,993.2 611.7,997.4 612.2,1001.4 C612.7,1005.5 613.7,1009.5 614.7,1013.5 C615.7,1017.4 616.6,1021.4 618.0,1025.2 C619.4,1029.0 621.0,1032.9 623.0,1036.4 C625.0,1039.9 627.5,1043.0 629.9,1046.1 C632.3,1049.2 634.6,1052.3 637.5,1055.0 C640.3,1057.7 643.6,1060.4 647.0,1062.3 C650.4,1064.2 656.1,1065.8 657.9,1066.5" fill="none" stroke="#8c8c8c" stroke-width="0.45" />
<path d="M573.5,654.6 C574.0,656.6 575.4,662.4 576.4,666.3 C577.4,670.1 578.2,674.0 579.4,677.9 C580.5,681.7 581.8,685.6 583.1,689.5 C584.5,693.3 586.0,697.2 587.5,701.0 C589.0,704.8 590.4,708.7 592.1,712.4 C593.8,716.1 595.9,719.6 597.9,723.2 C599.9,726.8 602.0,730.3 604.0,733.9 C606.0,737.5 608.1,741.1 609.9,744.7 C611.8,748.4 613.5,752.2 615.2,755.9 C617.0,759.6 619.0,763.2 620.5,767.0 C621.9,770.9 622.6,774.9 623.6,778.9 C624.6,782.9 626.0,786.8 626.6,790.9 C627.2,794.9 627.1,799.0 627.2,803.1 C627.3,807.2 627.2,811.3 627.1,815.4 C627.1,819.5 627.1,823.6 627.1,827.7 C627.0,831.8 627.1,835.9 626.9,840.0 C626.7,844.1 626.2,848.2 625.9,852.3 C625.5,856.4 625.2,860.5 624.8,864.6 C624.5,868.7 624.3,872.8 623.7,876.9 C623.2,880.9 622.4,884.9 621.7,888.9 C620.9,892.9 620.2,897.0 619.5,901.0 C618.9,905.0 618.3,909.0 617.8,913.0 C617.2,917.0 616.7,921.0 616.1,925.0 C615.5,929.0 614.7,932.9 614.4,936.9 C614.0,940.9 614.0,945.0 614.0,949.1 C614.0,953.2 614.2,957.3 614.3,961.4 C614.4,965.5 614.5,969.6 614.6,973.7 C614.7,977.8 614.7,982.0 614.9,986.1 C615.0,990.2 615.1,994.3 615.6,998.3 C616.0,1002.4 616.9,1006.4 617.8,1010.4 C618.7,1014.3 619.5,1018.3 620.8,1022.1 C622.1,1026.0 623.6,1029.9 625.5,1033.4 C627.3,1036.9 629.6,1040.1 631.8,1043.3 C634.0,1046.5 636.1,1049.8 638.8,1052.6 C641.5,1055.4 644.7,1058.1 647.9,1060.2 C651.2,1062.3 654.7,1063.6 658.4,1065.0 C662.1,1066.4 668.0,1068.0 669.9,1068.5" fill="none" stroke="#8c8c8c" stroke-width="0.45" />
<path d="M576.7,653.7 C577.3,655.6 579.0,661.3 580.1,665.1 C581.2,668.9 582.3,672.7 583.5,676.5 C584.7,680.3 586.1,684.2 587.5,688.0 C588.9,691.8 590.4,695.7 591.9,699.4 C593.5,703.2 594.9,707.1 596.7,710.7 C598.4,714.4 600.5,717.9 602.5,721.5 C604.5,725.1 606.6,728.6 608.6,732.1 C610.6,735.7 612.6,739.3 614.5,742.9 C616.3,746.6 618.0,750.3 619.8,754.0 C621.5,757.7 623.6,761.3 625.0,765.1 C626.4,769.0 627.2,773.0 628.2,777.0 C629.2,780.9 630.5,784.9 631.2,788.9 C631.8,792.9 631.9,796.9 632.1,801.0 C632.2,805.1 632.1,809.2 632.1,813.3 C632.1,817.4 632.1,821.5 632.1,825.6 C632.1,829.6 632.2,833.7 632.0,837.8 C631.8,841.9 631.3,846.0 631.0,850.1 C630.6,854.1 630.3,858.2 629.9,862.3 C629.6,866.4 629.4,870.5 628.8,874.5 C628.3,878.6 627.3,882.5 626.5,886.5 C625.8,890.5 624.9,894.5 624.2,898.5 C623.4,902.5 622.8,906.5 622.1,910.4 C621.4,914.4 620.7,918.3 620.0,922.3 C619.3,926.2 618.3,930.1 617.9,934.0 C617.4,938.0 617.4,942.1 617.4,946.2 C617.3,950.2 617.6,954.3 617.7,958.4 C617.8,962.5 617.9,966.6 618.0,970.7 C618.1,974.8 618.1,978.9 618.3,983.0 C618.4,987.1 618.5,991.2 618.9,995.2 C619.3,999.3 620.1,1003.3 620.9,1007.2 C621.7,1011.2 622.4,1015.2 623.6,1019.0 C624.8,1022.9 626.3,1026.8 628.0,1030.4 C629.7,1034.0 631.8,1037.2 633.8,1040.5 C635.8,1043.8 637.6,1047.2 640.1,1050.1 C642.7,1053.1 645.7,1055.9 648.9,1058.1 C652.0,1060.3 655.4,1062.0 658.9,1063.5 C662.5,1065.0 666.3,1066.5 670.3,1067.4 C674.2,1068.3 678.4,1068.4 682.4,1068.9 C686.5,1069.3 692.6,1070.0 694.6,1070.2" fill="none" stroke="#8c8c8c" stroke-width="0.45" />
<path d="M587.6,675.2 C588.3,677.1 590.4,682.8 591.8,686.6 C593.2,690.3 594.8,694.1 596.3,697.9 C597.9,701.7 599.4,705.4 601.2,709.1 C603.0,712.7 605.1,716.2 607.1,719.8 C609.1,723.3 611.2,726.8 613.2,730.4 C615.2,733.9 617.2,737.5 619.0,741.1 C620.9,744.8 622.5,748.5 624.3,752.2 C626.0,755.9 628.1,759.5 629.5,763.3 C630.9,767.1 631.7,771.1 632.8,775.0 C633.8,779.0 635.1,782.9 635.8,786.9 C636.5,790.9 636.7,794.9 636.9,799.0 C637.1,803.0 637.0,807.1 637.0,811.2 C637.0,815.3 637.1,819.3 637.1,823.4 C637.1,827.5 637.3,831.6 637.1,835.6 C637.0,839.7 636.4,843.8 636.1,847.8 C635.7,851.9 635.4,856.0 635.0,860.0 C634.7,864.1 634.6,868.2 634.0,872.2 C633.4,876.2 632.3,880.1 631.4,884.1 C630.6,888.1 629.6,892.0 628.8,896.0 C628.0,899.9 627.3,903.9 626.5,907.8 C625.7,911.8 624.8,915.6 624.0,919.5 C623.1,923.4 621.9,927.2 621.4,931.2 C620.8,935.1 620.8,939.2 620.7,943.2 C620.7,947.3 620.9,951.4 621.0,955.4 C621.2,959.5 621.3,963.6 621.4,967.7 C621.5,971.8 621.5,975.8 621.7,979.9 C621.8,984.0 621.9,988.1 622.3,992.1 C622.7,996.2 623.3,1000.2 624.0,1004.1 C624.7,1008.1 625.3,1012.1 626.4,1016.0 C627.5,1019.8 628.9,1023.7 630.5,1027.4 C632.0,1031.0 633.9,1034.4 635.7,1037.8 C637.6,1041.2 639.1,1044.7 641.5,1047.7 C643.8,1050.7 648.4,1054.6 649.8,1056.0" fill="none" stroke="#8c8c8c" stroke-width="0.45" />
<path d="M583.1,651.8 C583.8,653.6 586.0,659.1 587.5,662.8 C588.9,666.4 590.3,670.1 591.8,673.8 C593.2,677.5 594.6,681.3 596.1,685.1 C597.6,688.9 599.2,692.6 600.8,696.4 C602.4,700.1 604.0,703.8 605.8,707.4 C607.6,711.0 609.7,714.5 611.7,718.0 C613.7,721.6 615.8,725.1 617.8,728.6 C619.8,732.1 621.8,735.7 623.6,739.3 C625.4,742.9 627.1,746.7 628.8,750.3 C630.6,754.0 632.6,757.6 634.0,761.4 C635.4,765.2 636.3,769.2 637.3,773.1 C638.4,777.0 639.6,780.9 640.4,784.9 C641.1,788.9 641.5,792.9 641.7,796.9 C642.0,800.9 641.8,805.0 641.9,809.1 C642.0,813.1 642.0,817.2 642.1,821.3 C642.1,825.3 642.4,829.4 642.2,833.4 C642.1,837.5 641.5,841.6 641.2,845.6 C640.8,849.7 640.5,853.7 640.1,857.8 C639.8,861.8 639.7,865.9 639.1,869.9 C638.4,873.9 637.2,877.8 636.3,881.7 C635.4,885.6 634.4,889.5 633.5,893.5 C632.6,897.4 631.8,901.4 630.9,905.2 C629.9,909.1 628.9,913.0 627.9,916.8 C626.9,920.6 625.5,924.4 624.9,928.3 C624.2,932.2 624.2,936.3 624.1,940.3 C624.0,944.3 624.3,948.4 624.4,952.5 C624.5,956.5 624.6,960.6 624.7,964.7 C624.9,968.7 624.9,972.8 625.1,976.9 C625.2,980.9 625.3,985.0 625.6,989.0 C626.0,993.0 626.5,997.1 627.1,1001.0 C627.7,1005.0 628.2,1009.0 629.2,1012.9 C630.2,1016.8 631.5,1020.6 632.9,1024.3 C634.4,1028.0 636.0,1031.5 637.7,1035.0 C639.3,1038.5 640.7,1042.1 642.8,1045.3 C645.0,1048.4 647.9,1051.4 650.7,1053.9 C653.6,1056.5 656.6,1058.6 660.0,1060.5 C663.4,1062.4 667.1,1064.0 670.9,1065.1 C674.8,1066.1 681.0,1066.5 683.0,1066.8" fill="none" stroke="#8c8c8c" stroke-width="0.45" />
<path d="M600.5,683.6 C601.2,685.5 603.5,691.1 605.2,694.8 C606.8,698.5 608.5,702.2 610.3,705.8 C612.2,709.3 614.3,712.8 616.3,716.3 C618.3,719.8 620.4,723.3 622.4,726.8 C624.4,730.4 626.4,733.9 628.2,737.5 C630.0,741.1 631.6,744.8 633.4,748.5 C635.1,752.2 637.1,755.7 638.5,759.5 C640.0,763.3 640.8,767.2 641.9,771.1 C643.0,775.0 644.2,779.0 644.9,782.9 C645.7,786.9 646.2,790.8 646.6,794.8 C646.9,798.9 646.7,802.9 646.8,807.0 C646.9,811.0 647.0,815.1 647.1,819.1 C647.2,823.2 647.5,827.2 647.3,831.3 C647.2,835.3 646.6,839.3 646.3,843.4 C645.9,847.4 645.6,851.4 645.2,855.5 C644.9,859.5 644.8,863.6 644.2,867.6 C643.5,871.6 642.2,875.4 641.2,879.3 C640.2,883.2 639.1,887.1 638.1,891.0 C637.1,894.9 636.3,898.8 635.2,902.6 C634.2,906.5 633.0,910.3 631.9,914.1 C630.7,917.9 629.1,921.6 628.4,925.4 C627.7,929.3 627.6,933.3 627.5,937.3 C627.4,941.3 627.7,945.4 627.8,949.5 C627.9,953.5 628.0,957.6 628.1,961.6 C628.2,965.7 628.3,969.7 628.5,973.8 C628.6,977.8 628.7,981.9 629.0,985.9 C629.3,989.9 629.7,993.9 630.2,997.9 C630.7,1001.9 631.1,1005.9 632.0,1009.8 C632.9,1013.7 634.2,1017.6 635.4,1021.3 C636.7,1025.1 638.2,1028.6 639.7,1032.2 C641.1,1035.8 643.4,1041.1 644.2,1042.8" fill="none" stroke="#8c8c8c" stroke-width="0.45" />
<path d="M604.8,682.2 C605.6,684.0 607.9,689.6 609.6,693.3 C611.3,696.9 613.0,700.5 614.9,704.1 C616.8,707.7 618.9,711.1 620.9,714.6 C622.9,718.1 625.0,721.5 627.0,725.1 C629.0,728.6 630.9,732.1 632.7,735.7 C634.6,739.3 636.2,743.0 637.9,746.7 C639.6,750.3 641.6,753.9 643.0,757.6 C644.5,761.4 645.4,765.3 646.5,769.2 C647.6,773.1 648.7,777.0 649.5,780.9 C650.3,784.9 651.0,788.8 651.4,792.8 C651.7,796.8 651.6,800.9 651.7,804.9 C651.9,808.9 652.0,812.9 652.1,817.0 C652.2,821.0 652.5,825.0 652.4,829.1 C652.3,833.1 651.7,837.1 651.4,841.1 C651.0,845.2 650.7,849.2 650.3,853.2 C650.0,857.2 650.0,861.3 649.3,865.3 C648.6,869.2 647.2,873.0 646.1,876.9 C645.0,880.7 643.8,884.6 642.8,888.5 C641.7,892.3 640.7,896.2 639.6,900.0 C638.4,903.9 637.1,907.6 635.8,911.3 C634.5,915.1 632.7,918.7 631.9,922.6 C631.1,926.4 631.0,930.4 630.8,934.4 C630.7,938.4 631.1,942.5 631.2,946.5 C631.3,950.5 631.4,954.6 631.5,958.6 C631.6,962.6 631.7,966.7 631.9,970.7 C632.0,974.7 632.1,978.8 632.3,982.8 C632.6,986.8 632.9,990.8 633.3,994.8 C633.7,998.8 634.0,1002.8 634.8,1006.7 C635.6,1010.6 636.8,1014.5 637.9,1018.3 C639.1,1022.1 640.3,1025.8 641.6,1029.5 C642.9,1033.1 643.7,1037.0 645.5,1040.4 C647.3,1043.8 650.0,1046.9 652.6,1049.7 C655.2,1052.6 657.9,1055.3 661.1,1057.5 C664.2,1059.7 669.9,1061.9 671.6,1062.8" fill="none" stroke="#8c8c8c" stroke-width="0.45" />
<path d="M619.5,702.4 C620.5,704.2 623.5,709.4 625.5,712.9 C627.5,716.4 629.6,719.8 631.6,723.3 C633.6,726.8 635.5,730.3 637.3,733.9 C639.1,737.5 640.7,741.2 642.4,744.8 C644.2,748.5 646.1,752.0 647.6,755.7 C649.0,759.5 650.0,763.4 651.1,767.3 C652.2,771.1 653.3,775.0 654.1,778.9 C655.0,782.8 655.8,786.8 656.2,790.7 C656.6,794.7 656.5,798.8 656.7,802.8 C656.8,806.8 657.0,810.8 657.1,814.8 C657.3,818.8 657.6,822.9 657.5,826.9 C657.4,830.9 656.8,834.9 656.5,838.9 C656.1,842.9 655.8,846.9 655.4,850.9 C655.1,854.9 655.1,859.0 654.4,862.9 C653.6,866.9 652.1,870.6 651.0,874.5 C649.8,878.3 648.6,882.1 647.4,886.0 C646.2,889.8 645.2,893.7 643.9,897.4 C642.7,901.2 641.2,904.9 639.7,908.6 C638.3,912.3 636.3,915.9 635.4,919.7 C634.5,923.5 634.3,927.5 634.2,931.5 C634.1,935.4 634.4,939.5 634.6,943.5 C634.7,947.5 634.8,951.6 634.9,955.6 C635.0,959.6 635.1,963.6 635.3,967.6 C635.4,971.7 635.5,975.7 635.7,979.7 C635.9,983.7 636.1,987.7 636.4,991.7 C636.8,995.7 636.9,999.7 637.6,1003.6 C638.3,1007.5 639.4,1011.4 640.4,1015.3 C641.4,1019.1 642.5,1022.9 643.6,1026.7 C644.6,1030.5 645.2,1034.5 646.8,1037.9 C648.5,1041.4 651.1,1044.6 653.5,1047.6 C656.0,1050.7 658.5,1053.7 661.6,1056.0 C664.7,1058.3 668.3,1060.3 672.0,1061.6 C675.7,1062.9 679.9,1063.1 683.8,1063.8 C687.8,1064.5 693.7,1065.5 695.7,1065.9" fill="none" stroke="#8c8c8c" stroke-width="0.45" />
<path d="M624.0,700.8 C625.0,702.5 628.1,707.7 630.1,711.2 C632.1,714.6 634.2,718.0 636.2,721.5 C638.2,725.0 640.1,728.5 641.9,732.1 C643.7,735.7 645.3,739.4 647.0,743.0 C648.7,746.6 650.6,750.1 652.1,753.9 C653.5,757.6 654.5,761.5 655.6,765.3 C656.7,769.2 657.8,773.0 658.7,776.9 C659.6,780.8 660.6,784.7 661.0,788.7 C661.5,792.6 661.4,796.7 661.6,800.7 C661.8,804.7 662.0,808.7 662.1,812.7 C662.3,816.7 662.7,820.7 662.6,824.7 C662.5,828.7 661.9,832.7 661.6,836.7 C661.2,840.7 660.9,844.7 660.5,848.6 C660.2,852.6 660.3,856.7 659.5,860.6 C658.7,864.5 657.1,868.2 655.8,872.0 C654.6,875.9 653.3,879.6 652.1,883.4 C650.8,887.2 649.7,891.1 648.3,894.8 C646.9,898.6 645.2,902.2 643.7,905.9 C642.1,909.5 639.9,913.1 638.9,916.9 C637.9,920.6 637.7,924.6 637.6,928.5 C637.4,932.5 637.8,936.5 637.9,940.5 C638.1,944.6 638.2,948.6 638.3,952.6 C638.4,956.6 638.5,960.6 638.7,964.6 C638.8,968.6 638.9,972.6 639.0,976.6 C639.2,980.6 639.3,984.6 639.5,988.6 C639.8,992.6 639.8,996.6 640.4,1000.5 C641.0,1004.5 642.1,1008.4 642.9,1012.3 C643.8,1016.2 644.6,1020.0 645.5,1023.9 C646.4,1027.8 646.7,1031.9 648.2,1035.5 C649.7,1039.1 652.2,1042.4 654.5,1045.5 C656.8,1048.7 659.1,1052.0 662.1,1054.5 C665.1,1057.0 668.6,1059.1 672.3,1060.5 C676.0,1061.8 682.1,1062.4 684.1,1062.8" fill="none" stroke="#8c8c8c" stroke-width="0.45" />
<path d="M390.7,946 L391,990 M404.4,946 L404.6,1006 M418,946 L417.5,1008" fill="none" stroke="#111" stroke-width="1.38"/>
<circle cx="398.1" cy="990.2" r="6.4" fill="#fff" stroke="#111" stroke-width="1.49"/><circle cx="398.1" cy="990.2" r="4" fill="none" stroke="#111" stroke-width="1.15"/>
<circle cx="411.1" cy="1008" r="6.4" fill="#fff" stroke="#111" stroke-width="1.49"/><circle cx="411.1" cy="1008" r="4" fill="none" stroke="#111" stroke-width="1.15"/>
<path d="M641.4,919 L643.5,1022 M651.8,919 L653,1004 M662.2,919 L664,1004" fill="none" stroke="#111" stroke-width="1.38"/>
<circle cx="658.2" cy="1008.7" r="6.2" fill="#fff" stroke="#111" stroke-width="1.49"/><circle cx="658.2" cy="1008.7" r="3.9" fill="none" stroke="#111" stroke-width="1.15"/>
<circle cx="650.5" cy="1027.7" r="6.2" fill="#fff" stroke="#111" stroke-width="1.49"/><circle cx="650.5" cy="1027.7" r="3.9" fill="none" stroke="#111" stroke-width="1.15"/>
<path d="M424.8,828.0 C427.1,823.8 438.8,816.0 446.0,810.0 C453.2,804.0 460.3,798.0 468.0,792.0 C475.7,786.0 484.0,780.0 492.0,774.0 C500.0,768.0 509.2,761.0 516.0,756.0 C522.8,751.0 529.3,746.4 532.8,744.0 C536.3,741.6 535.4,742.2 537.0,741.6 C538.6,741.0 540.6,740.6 542.4,740.6 C544.1,740.6 545.9,741.0 547.5,741.6 C549.1,742.2 549.2,741.8 552.0,744.0 C554.8,746.2 560.0,751.0 564.0,755.0 C568.0,759.0 571.0,762.8 576.0,768.0 C581.0,773.2 588.0,780.0 594.0,786.0 C600.0,792.0 605.8,797.7 612.0,804.0 C618.2,810.3 624.6,817.2 631.0,824.0 C637.4,830.8 648.9,840.8 650.4,844.8 C651.9,848.8 643.2,847.0 640.0,848.0 C636.8,849.0 634.5,852.6 631.2,850.8 C627.9,849.0 624.0,841.6 620.0,837.0 C616.0,832.4 611.9,828.0 607.2,823.2 C602.5,818.4 597.2,813.2 592.0,808.0 C586.8,802.8 581.3,797.5 576.0,792.0 C570.7,786.5 565.2,780.6 560.0,775.0 C554.8,769.4 549.0,762.4 544.8,758.4 C540.6,754.4 537.4,752.5 535.0,751.0 C532.6,749.5 531.9,748.7 530.4,749.5 C528.9,750.3 528.4,752.5 526.0,756.0 C523.6,759.5 520.7,764.9 516.0,770.4 C511.3,775.9 504.0,782.6 498.0,789.0 C492.0,795.4 486.3,802.8 480.0,808.8 C473.7,814.8 466.8,819.4 460.0,825.0 C453.2,830.6 443.9,840.7 439.2,842.4 C434.5,844.1 434.4,837.4 432.0,835.0 C429.6,832.6 422.5,832.2 424.8,828.0Z" fill="#fff" stroke="none"/>
<path d="M424.8,828.0 C428.3,825.0 438.8,816.0 446.0,810.0 C453.2,804.0 460.3,798.0 468.0,792.0 C475.7,786.0 484.0,780.0 492.0,774.0 C500.0,768.0 509.2,761.0 516.0,756.0 C522.8,751.0 529.3,746.4 532.8,744.0 C536.3,741.6 535.4,742.2 537.0,741.6 C538.6,741.0 540.6,740.6 542.4,740.6 C544.1,740.6 545.9,741.0 547.5,741.6 C549.1,742.2 549.2,741.8 552.0,744.0 C554.8,746.2 560.0,751.0 564.0,755.0 C568.0,759.0 571.0,762.8 576.0,768.0 C581.0,773.2 588.0,780.0 594.0,786.0 C600.0,792.0 605.8,797.7 612.0,804.0 C618.2,810.3 624.6,817.2 631.0,824.0 C637.4,830.8 647.2,841.3 650.4,844.8" fill="none" stroke="#111" stroke-width="1.67" />
<path d="M439.2,842.4 C442.7,839.5 453.2,830.6 460.0,825.0 C466.8,819.4 473.7,814.8 480.0,808.8 C486.3,802.8 492.0,795.4 498.0,789.0 C504.0,782.6 511.3,775.9 516.0,770.4 C520.7,764.9 523.6,759.5 526.0,756.0 C528.4,752.5 528.9,750.3 530.4,749.5 C531.9,748.7 532.6,749.5 535.0,751.0 C537.4,752.5 540.6,754.4 544.8,758.4 C549.0,762.4 554.8,769.4 560.0,775.0 C565.2,780.6 570.7,786.5 576.0,792.0 C581.3,797.5 586.8,802.8 592.0,808.0 C597.2,813.2 602.5,818.4 607.2,823.2 C611.9,828.0 616.0,832.4 620.0,837.0 C624.0,841.6 629.3,848.5 631.2,850.8" fill="none" stroke="#111" stroke-width="1.67" />
<path d="M463.0,654.0 C461.0,659.9 453.8,678.8 451.0,689.5 C448.2,700.2 446.5,708.1 446.0,718.0 C445.5,727.9 446.6,739.6 448.0,749.0 C449.4,758.4 451.8,764.7 454.6,774.6 C457.4,784.5 461.6,799.0 464.8,808.6 C468.0,818.2 471.6,824.1 474.0,832.0 C476.4,839.9 478.1,846.7 479.2,856.0 C480.3,865.3 480.5,877.3 480.8,888.0 C481.1,898.7 480.5,908.0 480.8,920.0 C481.1,932.0 481.5,950.0 482.4,960.0 C483.3,970.0 483.9,974.7 486.0,980.0 C488.1,985.3 493.5,990.0 495.0,992.0" fill="none" stroke="#111" stroke-width="1.26" />
<path d="M470.0,654.0 C467.7,659.9 459.0,678.8 456.0,689.5 C453.0,700.2 452.2,708.1 452.0,718.0 C451.8,727.9 453.3,740.0 454.6,749.0 C455.9,758.0 457.4,762.5 460.0,772.0 C462.6,781.5 467.2,796.0 470.5,806.0 C473.8,816.0 477.6,823.7 480.0,832.0 C482.4,840.3 483.9,846.7 485.0,856.0 C486.1,865.3 486.2,877.3 486.5,888.0 C486.8,898.7 486.2,908.3 486.5,920.0 C486.8,931.7 487.1,948.8 488.0,958.0 C488.9,967.2 490.0,970.0 492.0,975.0 C494.0,980.0 498.7,985.8 500.0,988.0" fill="none" stroke="#111" stroke-width="1.26" />
<path d="M603.4,647.4 C605.0,652.5 610.7,668.4 613.0,678.3 C615.3,688.2 616.5,695.7 617.0,707.0 C617.5,718.3 617.0,734.4 616.0,746.0 C615.0,757.6 613.0,767.8 611.0,776.8 C609.0,785.8 607.2,793.5 604.0,800.0 C600.8,806.5 595.0,809.3 592.0,816.0 C589.0,822.7 588.3,829.3 586.0,840.0 C583.7,850.7 580.7,868.8 578.0,880.0 C575.3,891.2 572.0,898.8 570.0,907.0 C568.0,915.2 567.2,919.8 565.8,929.0 C564.4,938.2 562.9,952.1 561.4,962.0 C559.9,971.9 557.7,984.0 557.0,988.4" fill="none" stroke="#111" stroke-width="1.26" />
<path d="M609.0,647.4 C610.7,652.5 616.7,668.4 619.0,678.3 C621.3,688.2 622.5,695.7 623.0,707.0 C623.5,718.3 623.0,734.3 622.0,746.0 C621.0,757.7 618.8,768.0 617.0,777.0 C615.2,786.0 614.2,793.2 611.0,800.0 C607.8,806.8 601.2,811.0 598.0,818.0 C594.8,825.0 594.3,831.7 592.0,842.0 C589.7,852.3 587.0,869.2 584.0,880.0 C581.0,890.8 576.3,898.8 574.0,907.0 C571.7,915.2 571.5,919.8 570.2,929.0 C568.9,938.2 567.5,952.1 566.0,962.0 C564.5,971.9 562.2,984.0 561.4,988.4" fill="none" stroke="#111" stroke-width="1.26" />
<path d="M316.0,626.0 C316.5,634.3 313.5,648.5 312.0,660.0 C310.5,671.5 308.8,682.0 307.0,695.0 C305.2,708.0 302.2,723.2 301.0,738.0 C299.8,752.8 299.0,769.3 300.0,784.0 C301.0,798.7 302.5,812.3 307.0,826.0 C311.5,839.7 321.0,853.7 327.0,866.0 C333.0,878.3 339.5,890.2 343.0,900.0 C346.5,909.8 344.8,917.7 348.0,925.0 C351.2,932.3 355.8,940.2 362.0,944.0 C368.2,947.8 377.0,947.8 385.0,948.0 C393.0,948.2 402.5,947.2 410.0,945.0 C417.5,942.8 425.0,938.8 430.0,935.0 C435.0,931.2 436.2,927.8 440.0,922.0 C443.8,916.2 450.3,906.7 453.0,900.0 C455.7,893.3 456.2,887.7 456.0,882.0 C455.8,876.3 454.7,870.0 452.0,866.0 C449.3,862.0 444.7,863.7 440.0,858.0 C435.3,852.3 428.3,842.0 424.0,832.0 C419.7,822.0 417.2,809.2 414.0,798.0 C410.8,786.8 407.2,775.2 405.0,765.0 C402.8,754.8 401.2,748.0 401.0,737.0 C400.8,726.0 402.8,711.0 404.0,699.0 C405.2,687.0 407.2,674.5 408.0,665.0 C408.8,655.5 409.7,647.8 409.0,642.0 C408.3,636.2 405.5,636.0 404.0,630.0 C402.5,624.0 399.3,612.7 400.0,606.0 C400.7,599.3 403.8,593.0 408.0,590.0 C412.2,587.0 421.3,593.0 425.0,588.0 C428.7,583.0 431.5,566.5 430.0,560.0 C428.5,553.5 421.3,551.8 416.0,549.0 C410.7,546.2 404.5,544.3 398.0,543.0 C391.5,541.7 383.3,539.8 377.0,541.0 C370.7,542.2 366.8,547.3 360.0,550.0 C353.2,552.7 341.8,552.8 336.0,557.0 C330.2,561.2 329.0,569.8 325.0,575.0 C321.0,580.2 314.7,582.2 312.0,588.0 C309.3,593.8 308.3,603.7 309.0,610.0 C309.7,616.3 315.5,617.7 316.0,626.0Z" fill="#fff" stroke="none"/>
<path d="M395.0,600.0 C398.5,596.7 404.2,594.7 410.0,588.0 C415.8,581.3 424.5,563.7 430.0,560.0 C435.5,556.3 433.7,564.7 443.0,566.0 C452.3,567.3 470.5,567.7 486.0,568.0 C501.5,568.3 521.2,570.2 536.0,568.0 C550.8,565.8 563.7,559.0 575.0,555.0 C586.3,551.0 593.2,546.8 604.0,544.0 C614.8,541.2 633.0,543.3 640.0,538.0 C647.0,532.7 642.0,519.7 646.0,512.0 C650.0,504.3 657.0,495.5 664.0,492.0 C671.0,488.5 678.0,490.3 688.0,491.0 C698.0,491.7 716.7,492.8 724.0,496.0 C731.3,499.2 730.2,502.7 732.0,510.0 C733.8,517.3 735.0,529.7 735.0,540.0 C735.0,550.3 734.2,568.7 732.0,572.0 C729.8,575.3 724.7,563.3 722.0,560.0 C719.3,556.7 719.7,548.7 716.0,552.0 C712.3,555.3 706.3,571.3 700.0,580.0 C693.7,588.7 688.0,595.0 678.0,604.0 C668.0,613.0 653.5,626.7 640.0,634.0 C626.5,641.3 613.5,644.3 597.0,648.0 C580.5,651.7 559.8,655.3 541.0,656.0 C522.2,656.7 502.3,654.3 484.0,652.0 C465.7,649.7 445.0,644.7 431.0,642.0 C417.0,639.3 407.0,638.8 400.0,636.0 C393.0,633.2 390.8,629.7 389.0,625.0 C387.2,620.3 388.0,612.2 389.0,608.0 C390.0,603.8 391.5,603.3 395.0,600.0Z" fill="#fff" stroke="none"/>
<path d="M642.0,626.0 C635.7,634.0 640.2,640.3 640.0,652.0 C639.8,663.7 640.2,682.2 641.0,696.0 C641.8,709.8 643.2,722.3 645.0,735.0 C646.8,747.7 649.5,759.5 652.0,772.0 C654.5,784.5 659.0,797.7 660.0,810.0 C661.0,822.3 657.7,840.7 658.0,846.0 C658.3,851.3 656.7,839.3 662.0,842.0 C667.3,844.7 682.7,854.8 690.0,862.0 C697.3,869.2 704.0,876.7 706.0,885.0 C708.0,893.3 700.3,908.2 702.0,912.0 C703.7,915.8 710.5,911.3 716.0,908.0 C721.5,904.7 729.0,898.7 735.0,892.0 C741.0,885.3 748.0,878.3 752.0,868.0 C756.0,857.7 758.2,843.0 759.0,830.0 C759.8,817.0 758.3,801.3 757.0,790.0 C755.7,778.7 752.8,772.7 751.0,762.0 C749.2,751.3 748.0,738.5 746.0,726.0 C744.0,713.5 740.5,700.0 739.0,687.0 C737.5,674.0 737.5,661.2 737.0,648.0 C736.5,634.8 736.3,620.7 736.0,608.0 C735.7,595.3 737.3,580.0 735.0,572.0 C732.7,564.0 727.8,558.7 722.0,560.0 C716.2,561.3 707.3,572.7 700.0,580.0 C692.7,587.3 687.7,596.3 678.0,604.0 C668.3,611.7 648.3,618.0 642.0,626.0Z" fill="#fff" stroke="none"/>
<path d="M546.0,845.0 C551.5,842.8 556.2,840.5 561.0,840.0 C565.8,839.5 569.5,841.0 575.0,842.0 C580.5,843.0 586.5,844.5 594.0,846.0 C601.5,847.5 611.5,850.0 620.0,851.0 C628.5,852.0 639.7,852.8 645.0,852.0 C650.3,851.2 649.2,847.8 652.0,846.0 C654.8,844.2 655.7,838.3 662.0,841.0 C668.3,843.7 682.7,854.7 690.0,862.0 C697.3,869.3 704.3,877.2 706.0,885.0 C707.7,892.8 706.5,903.0 700.0,909.0 C693.5,915.0 678.0,919.0 667.0,921.0 C656.0,923.0 645.7,921.5 634.0,921.0 C622.3,920.5 607.7,919.8 597.0,918.0 C586.3,916.2 575.2,908.0 570.0,910.0 C564.8,912.0 567.3,923.2 566.0,930.0 C564.7,936.8 564.2,944.2 562.0,951.0 C559.8,957.8 556.3,965.3 553.0,971.0 C549.7,976.7 545.0,981.7 542.0,985.0 C539.0,988.3 541.0,990.3 535.0,991.0 C529.0,991.7 511.7,990.8 506.0,989.0 C500.3,987.2 502.5,984.5 501.0,980.0 C499.5,975.5 498.2,968.7 497.0,962.0 C495.8,955.3 494.3,947.3 494.0,940.0 C493.7,932.7 493.8,924.7 495.0,918.0 C496.2,911.3 498.5,905.5 501.0,900.0 C503.5,894.5 507.5,890.5 510.0,885.0 C512.5,879.5 513.0,872.3 516.0,867.0 C519.0,861.7 523.0,856.7 528.0,853.0 C533.0,849.3 540.5,847.2 546.0,845.0Z" fill="#fff" stroke="none"/>
<path d="M314.0,626.0 C305.7,628.4 308.4,657.8 317.0,658.7 C308.4,659.4 304.3,691.5 312.5,694.3 C303.8,695.2 298.0,734.1 306.0,737.5 C297.5,739.6 296.6,781.5 305.0,784.0 C297.1,787.7 304.3,825.5 313.0,826.0 C306.4,831.8 324.4,867.8 333.0,866.0 C326.0,871.1 339.5,901.7 348.0,900.0" fill="none" stroke="#111" stroke-width="1.67"/>
<path d="M403.6,641.7 C412.1,642.9 412.1,663.8 403.6,665.0 C411.9,667.5 409.1,698.1 400.5,699.0 C408.8,701.6 406.0,736.3 397.4,737.5 C405.9,738.4 407.4,763.1 399.0,765.0 C407.6,764.4 415.7,794.1 408.0,798.0 C416.6,796.9 427.4,827.5 420.0,832.0 C428.0,828.8 444.2,854.0 438.0,860.0" fill="none" stroke="#111" stroke-width="1.67"/>
<path d="M348.0,900.0 C347.8,902.5 346.3,909.7 347.0,915.0 C347.7,920.3 349.0,927.2 352.0,932.0 C355.0,936.8 359.5,941.5 365.0,944.0 C370.5,946.5 377.5,947.0 385.0,947.0 C392.5,947.0 402.5,946.2 410.0,944.0 C417.5,941.8 425.0,937.7 430.0,934.0 C435.0,930.3 436.7,926.8 440.0,922.0 C443.3,917.2 447.3,911.2 450.0,905.0 C452.7,898.8 455.7,891.2 456.0,885.0 C456.3,878.8 455.0,872.2 452.0,868.0 C449.0,863.8 440.3,861.3 438.0,860.0" fill="none" stroke="#111" stroke-width="1.67" />
<path d="M317.0,658.7 Q326.0,666.7 353.0,661.7" fill="none" stroke="#111" stroke-width="1.49"/>
<path d="M312.5,694.3 Q321.5,702.3 348.5,697.3" fill="none" stroke="#111" stroke-width="1.49"/>
<path d="M306.0,737.5 Q315.0,745.5 342.0,740.5" fill="none" stroke="#111" stroke-width="1.49"/>
<path d="M305.0,784.0 Q314.0,792.0 341.0,787.0" fill="none" stroke="#111" stroke-width="1.49"/>
<path d="M313.0,826.0 Q322.0,834.0 349.0,829.0" fill="none" stroke="#111" stroke-width="1.49"/>
<path d="M333.0,866.0 Q341.0,869.0 365.0,864.0" fill="none" stroke="#111" stroke-width="1.49"/>
<path d="M348.0,900.0 Q357.0,903.0 384.0,898.0" fill="none" stroke="#111" stroke-width="1.49"/>
<path d="M403.6,665.0 Q396.1,673.0 373.6,668.0" fill="none" stroke="#111" stroke-width="1.49"/>
<path d="M400.5,699.0 Q393.0,707.0 370.5,702.0" fill="none" stroke="#111" stroke-width="1.49"/>
<path d="M397.4,737.5 Q389.9,745.5 367.4,740.5" fill="none" stroke="#111" stroke-width="1.49"/>
<path d="M399.0,765.0 Q391.5,773.0 369.0,768.0" fill="none" stroke="#111" stroke-width="1.49"/>
<path d="M408.0,798.0 Q400.5,806.0 378.0,801.0" fill="none" stroke="#111" stroke-width="1.49"/>
<path d="M420.0,832.0 Q414.0,849.0 396.0,844.0" fill="none" stroke="#111" stroke-width="1.49"/>
<path d="M438.0,860.0 Q432.0,885.0 414.0,880.0" fill="none" stroke="#111" stroke-width="1.49"/>
<path d="M358.5,622.1 L359.3,625.2 L358.2,628.4 L358.3,631.6 L359.6,634.7 L358.9,637.9 L358.3,641.1 L359.6,644.2 L359.6,647.3 L358.5,650.5 L359.5,653.7 L360.1,656.8 L358.9,660.0 L359.1,663.1 L360.1,666.2 L359.1,669.2 L358.5,672.3 L359.7,675.4 L359.3,678.4 L358.2,681.5 L359.1,684.6 L359.5,687.6 L358.1,690.7 L358.4,693.8 L359.4,696.9 L358.2,699.9 L357.7,703.0 L358.9,706.1 L358.2,709.1 L357.1,712.2 L358.1,715.3 L358.1,718.4 L356.7,721.4 L357.2,724.5 L357.9,727.6 L356.6,730.6 L356.3,733.7 L357.4,736.8 L356.5,739.9 L355.6,742.9 L356.6,746.1 L356.5,749.2 L355.1,752.2 L355.7,755.4 L356.3,758.5 L354.9,761.5 L354.8,764.6 L355.9,767.8 L354.9,770.9 L354.1,773.9 L355.2,777.1 L354.9,780.1 L354.3,783.4 L355.7,786.4 L356.8,789.4 L356.1,792.8 L356.9,795.8 L358.6,798.8 L358.1,802.1 L358.2,805.3 L360.0,808.2 L360.2,811.3 L359.7,814.7 L361.3,817.6 L362.2,820.5 L362.4,823.8 L364.1,826.3 L366.4,828.5 L366.8,831.7 L367.8,834.6 L370.4,836.7 L371.2,839.7 L371.7,842.8 L374.1,845.0 L375.6,847.6 L375.9,850.9 L377.8,853.3 L380.3,855.4 L381.2,858.7 L382.9,861.3 L385.8,863.1 L387.0,866.1 L388.2,869.1 L391.0,871.0 L392.9,873.5 L393.7,876.8 L396.2,878.9 L398.6,881.0 L399.4,884.2 L401.3,886.5 L404.1,888.2 L405.3,891.1 L406.6,893.8 L409.4,895.4 L411.1,897.9 L412.0,901.0 L414.6,902.8 L416.9,904.9 L417.8,908.2 L420.6,910.1 L423.9,911.4 L425.8,914.4 L428.2,916.9 L431.6,918.1 L434.0,920.6 " fill="none" stroke="#1a1a1a" stroke-width="1.15"/>
<path d="M363.5,621.9 L364.3,625.1 L363.2,628.3 L363.3,631.5 L364.6,634.6 L363.9,637.8 L363.3,641.0 L364.6,644.1 L364.6,647.3 L363.5,650.5 L364.5,653.7 L365.1,656.8 L363.9,660.0 L364.1,663.1 L365.1,666.2 L364.1,669.2 L363.5,672.3 L364.7,675.4 L364.3,678.5 L363.2,681.6 L364.1,684.7 L364.5,687.8 L363.1,690.8 L363.4,693.9 L364.4,697.0 L363.2,700.1 L362.7,703.1 L363.9,706.3 L363.2,709.3 L362.1,712.4 L363.1,715.5 L363.1,718.6 L361.7,721.6 L362.2,724.7 L362.9,727.8 L361.6,730.9 L361.3,733.9 L362.4,737.1 L361.5,740.1 L360.6,743.1 L361.6,746.3 L361.5,749.3 L360.1,752.3 L360.7,755.4 L361.3,758.5 L359.9,761.5 L359.8,764.5 L360.9,767.7 L359.9,770.7 L359.1,773.7 L360.2,776.8 L359.9,779.8 L359.2,783.0 L360.7,785.9 L361.8,788.8 L361.0,792.1 L361.8,795.1 L363.5,797.9 L363.0,801.1 L363.1,804.2 L364.9,807.0 L365.1,810.1 L364.5,813.3 L366.1,816.2 L367.0,819.0 L367.2,822.4 L369.1,825.1 L371.4,827.5 L371.8,830.8 L373.0,833.8 L375.6,836.1 L376.5,839.2 L377.1,842.5 L379.6,844.8 L381.2,847.6 L381.6,851.1 L383.9,853.3 L386.4,855.3 L387.2,858.5 L388.9,861.1 L391.8,862.9 L393.0,865.9 L394.2,868.8 L397.0,870.7 L398.8,873.2 L399.6,876.4 L402.0,878.5 L404.6,880.6 L405.6,884.0 L407.6,886.5 L410.6,888.4 L411.9,891.5 L413.3,894.4 L416.3,896.2 L418.2,898.9 L419.2,902.2 L421.9,904.2 L424.8,905.9 L426.5,909.0 L429.3,910.9 L432.5,912.1 L434.4,915.0 L436.6,917.5 " fill="none" stroke="#1a1a1a" stroke-width="1.15"/>
<path d="M314.0,626.0 C313.5,623.3 311.5,614.7 311.0,610.0 C310.5,605.3 310.3,602.0 311.0,598.0 C311.7,594.0 312.7,589.4 315.0,586.0 C317.3,582.6 322.8,580.4 325.0,577.6 C327.2,574.8 326.2,572.0 328.0,569.0 C329.8,566.0 332.5,561.8 336.0,559.4 C339.5,557.0 345.0,555.7 349.0,554.5 C353.0,553.3 357.2,553.5 360.0,552.4 C362.8,551.3 363.2,549.6 366.0,548.0 C368.8,546.4 373.0,543.6 377.0,542.6 C381.0,541.6 386.5,541.7 390.0,541.9 C393.5,542.1 395.3,543.2 398.0,544.0 C400.7,544.8 403.2,545.9 406.0,546.8 C408.8,547.7 412.2,548.4 415.0,549.6 C417.8,550.8 420.7,552.4 423.0,553.8 C425.3,555.2 428.0,557.3 429.0,558.0" fill="none" stroke="#111" stroke-width="1.67" />
<path d="M326.6,579.0 C326.4,581.3 325.0,588.8 325.2,593.0 C325.4,597.2 325.9,600.9 328.0,604.2 C330.1,607.5 333.6,610.7 337.8,612.6 C342.0,614.5 350.6,614.9 353.2,615.4" fill="none" stroke="#111" stroke-width="1.49" />
<path d="M368.6,561.5 C366.0,563.0 356.9,566.5 353.2,570.6 C349.5,574.7 346.9,580.4 346.2,586.0 C345.5,591.6 347.1,599.1 349.0,604.2 C350.9,609.3 354.6,613.8 357.4,616.8 C360.2,619.8 364.4,621.5 365.8,622.4" fill="none" stroke="#111" stroke-width="1.49" />
<path d="M386.8,572.0 C384.5,573.4 376.8,576.7 372.8,580.4 C368.8,584.1 364.6,589.7 363.0,594.4 C361.4,599.1 361.8,603.7 363.0,608.4 C364.2,613.1 367.0,618.7 370.0,622.4 C373.0,626.1 379.3,629.4 381.2,630.8" fill="none" stroke="#111" stroke-width="1.49" />
<path d="M406.4,586.0 C404.5,587.4 398.0,590.7 395.2,594.4 C392.4,598.1 390.3,603.3 389.6,608.4 C388.9,613.5 390.8,622.4 391.0,625.2" fill="none" stroke="#111" stroke-width="1.49" />
<path d="M314.0,626.6 C316.3,628.2 322.4,634.1 328.0,636.4 C333.6,638.7 344.3,639.9 347.6,640.6" fill="none" stroke="#111" stroke-width="1.49" />
<path d="M384.0,552.4 C385.0,551.7 387.7,548.9 390.0,548.0 C392.3,547.1 396.7,547.0 398.0,546.8" fill="none" stroke="#111" stroke-width="1.26" />
<path d="M396.6,563.6 C397.5,562.5 399.9,558.6 402.0,557.0 C404.1,555.4 408.0,554.3 409.2,553.8" fill="none" stroke="#111" stroke-width="1.26" />
<path d="M414.8,572.0 C415.7,570.7 417.7,566.1 420.0,564.0 C422.3,561.9 427.3,560.2 428.8,559.4" fill="none" stroke="#111" stroke-width="1.26" />
<path d="M359.2,556.1 L362.4,556.6 L365.0,558.9 L368.0,560.0 L371.4,560.0 L374.1,561.9 L376.7,563.7 L380.5,564.3 L383.6,566.1 L386.3,568.9 L389.9,569.8 L393.2,571.3 L395.5,574.4 L398.6,576.2 L402.3,577.2 L404.7,580.1 L407.4,582.2 L410.9,582.8 L413.6,584.8 L416.0,587.4 L419.4,588.2 L422.3,589.5 L425.6,591.4 L429.1,591.6 L432.8,591.2 L436.1,592.9 " fill="none" stroke="#1a1a1a" stroke-width="1.15"/>
<path d="M360.8,551.9 L364.1,552.4 L366.7,554.7 L369.7,555.8 L373.2,555.9 L375.9,557.8 L378.6,559.6 L381.8,559.9 L384.4,561.5 L386.5,563.9 L389.6,564.5 L392.6,565.5 L394.4,568.2 L397.0,569.7 L400.1,570.4 L402.1,572.9 L404.3,575.0 L407.5,575.6 L410.1,577.5 L412.3,580.0 L415.6,580.8 L418.6,582.1 L420.7,584.8 L423.8,586.1 L427.3,585.7 L430.4,587.3 L433.7,588.2 L437.2,587.5 " fill="none" stroke="#1a1a1a" stroke-width="1.15"/>
<path d="M429.0,558.0 C433.7,555.1 445.5,566.1 443.0,571.0 C447.0,560.6 483.2,562.6 486.0,573.4 C489.9,564.1 531.9,563.7 536.0,573.0 C536.4,563.8 569.3,552.8 575.2,560.0 C575.0,552.9 599.2,543.2 604.0,548.5 C601.8,541.9 620.2,528.0 626.0,532.0 C622.1,526.1 637.2,505.9 644.0,508.0 C641.8,501.4 658.6,489.7 664.0,494.0 C665.9,488.7 686.1,488.7 688.0,494.0 C690.4,488.9 710.5,490.5 712.0,496.0 C716.9,493.2 732.9,506.7 731.0,512.0 C735.0,514.6 735.0,542.4 731.0,545.0 C734.9,547.7 733.5,574.1 729.4,576.4" fill="none" stroke="#111" stroke-width="1.67"/>
<path d="M443.0,571.0 C443.2,572.2 443.8,576.8 444.0,578.0" fill="none" stroke="#111" stroke-width="1.38" />
<path d="M486.0,573.4 C486.0,574.3 486.0,578.1 486.0,579.0" fill="none" stroke="#111" stroke-width="1.38" />
<path d="M536.0,573.0 C535.9,574.0 535.6,578.0 535.5,579.0" fill="none" stroke="#111" stroke-width="1.38" />
<path d="M575.2,560.0 C575.3,561.3 575.9,566.7 576.0,568.0" fill="none" stroke="#111" stroke-width="1.38" />
<path d="M604.0,548.5 C604.3,549.8 605.7,554.8 606.0,556.0" fill="none" stroke="#111" stroke-width="1.38" />
<path d="M626.0,532.0 C626.7,533.3 629.3,538.7 630.0,540.0" fill="none" stroke="#111" stroke-width="1.38" />
<path d="M644.0,508.0 C645.0,509.0 649.0,513.0 650.0,514.0" fill="none" stroke="#111" stroke-width="1.38" />
<path d="M664.0,494.0 C664.7,495.3 667.3,500.7 668.0,502.0" fill="none" stroke="#111" stroke-width="1.38" />
<path d="M398.7,570.6 L401.8,571.7 L403.8,574.5 L406.6,576.2 L409.9,577.0 L412.2,579.4 L414.5,581.7 L417.9,582.4 L420.5,584.3 L422.8,587.2 L426.1,587.0 L429.3,587.2 L432.1,589.3 L435.2,589.8 L438.6,589.5 L441.4,591.2 L444.3,592.5 L447.6,591.9 L450.6,592.6 L453.6,594.0 L456.7,593.3 L459.8,593.2 L462.7,594.9 L465.7,594.8 L468.9,594.1 L471.8,595.5 L474.8,595.9 L477.9,594.8 L480.9,595.4 L483.9,596.5 L486.9,595.5 L490.0,595.4 L492.9,596.8 L496.0,596.3 L499.0,595.3 L502.0,596.5 L505.0,596.5 L508.0,595.2 L511.1,595.8 L514.1,596.5 L517.1,595.2 L520.1,595.1 L523.2,596.1 L526.2,595.1 L529.1,594.2 L532.2,595.2 L535.3,594.9 L538.2,593.5 L541.3,594.1 L544.4,594.5 L547.2,592.8 L550.3,592.4 L553.5,593.1 L556.4,591.7 L559.3,590.6 L562.5,591.4 L565.5,590.7 L568.3,589.1 L571.6,589.2 L574.7,588.9 L577.4,586.8 L580.6,586.3 L583.9,586.5 L586.6,584.7 L589.6,583.5 L593.0,583.9 L595.7,582.3 L598.1,580.2 L601.3,580.1 L604.3,579.2 L606.6,576.8 L609.6,576.2 L612.8,575.9 L615.1,573.7 L617.3,571.6 L620.4,570.5 L622.4,568.0 L624.1,565.3 L627.2,564.2 L629.6,562.2 L631.1,559.3 L634.0,557.8 L636.8,556.4 L638.3,553.4 L640.5,551.2 L643.6,549.9 L645.3,547.1 L647.0,544.4 L650.1,543.0 L652.2,540.8 L653.6,537.7 L656.4,536.1 L659.1,534.3 L660.3,531.3 L662.4,529.0 L665.2,527.4 L666.4,524.4 L667.9,521.7 L670.9,520.1 L672.6,517.5 L673.7,514.5 L676.4,512.7 L678.9,510.7 L680.3,507.5 L682.8,505.5 L685.8,503.9 L687.3,500.8 " fill="none" stroke="#1a1a1a" stroke-width="1.15"/>
<path d="M401.3,566.6 L404.4,567.7 L406.3,570.4 L409.0,572.1 L412.3,572.8 L414.4,575.2 L416.7,577.5 L420.0,578.1 L422.6,580.0 L424.8,582.8 L427.9,582.6 L431.0,582.8 L433.6,584.8 L436.6,585.3 L439.8,584.9 L442.5,586.6 L445.3,587.8 L448.5,587.2 L451.8,587.9 L455.1,589.4 L458.6,588.7 L462.1,588.7 L465.3,590.3 L468.8,590.3 L472.2,589.6 L475.6,590.8 L479.0,591.3 L482.4,590.1 L485.8,590.8 L489.2,591.9 L492.6,590.9 L496.0,590.8 L499.4,592.0 L502.8,591.3 L506.2,590.4 L509.7,591.5 L513.1,591.5 L516.5,590.1 L519.9,590.8 L523.3,591.3 L526.7,589.8 L530.1,589.6 L533.6,590.5 L536.9,589.5 L540.3,588.5 L543.8,589.5 L546.8,589.0 L549.5,587.3 L552.6,587.6 L555.7,587.8 L558.5,586.1 L561.5,585.7 L564.6,586.4 L567.5,585.0 L570.3,583.7 L573.6,584.1 L576.5,583.1 L579.2,581.2 L582.4,581.3 L585.5,581.0 L588.1,578.9 L591.1,578.5 L594.6,578.2 L597.3,576.0 L600.2,574.4 L603.8,574.3 L606.6,572.7 L609.3,570.5 L612.9,570.2 L615.4,568.5 L616.8,565.5 L619.4,563.9 L622.3,562.7 L623.8,559.8 L625.9,557.7 L629.0,556.7 L630.9,554.3 L632.6,551.6 L635.7,550.5 L637.9,548.4 L639.2,545.3 L641.9,543.7 L644.7,542.0 L646.0,539.0 L648.2,536.8 L651.2,535.5 L652.8,532.7 L654.5,530.0 L657.6,528.7 L659.5,526.3 L660.5,523.1 L663.1,521.3 L665.5,519.4 L666.4,516.2 L668.5,513.9 L671.3,512.3 L672.5,509.3 L674.4,506.6 L677.6,505.1 L679.7,502.6 L681.1,499.5 L684.1,497.8 " fill="none" stroke="#1a1a1a" stroke-width="1.15"/>
<path d="M391.0,625.2 C392.0,633.8 426.1,643.7 431.6,637.0 C433.7,648.3 478.0,657.5 484.4,648.0 C488.3,658.9 535.7,661.4 540.8,651.0 C546.8,660.9 594.4,654.2 597.4,643.0 C603.7,650.8 640.7,639.0 641.4,629.0 C650.0,634.1 681.4,610.3 678.8,600.6 C686.6,603.8 707.0,581.5 703.0,574.0 C708.0,576.6 720.9,563.8 718.4,558.8" fill="none" stroke="#111" stroke-width="1.67"/>
<path d="M431.2,604.6 C430.9,607.2 429.4,614.6 429.5,620.0 C429.6,625.4 431.2,634.2 431.6,637.0" fill="none" stroke="#111" stroke-width="1.55" />
<path d="M485.2,602.2 C484.8,606.0 483.1,617.4 483.0,625.0 C482.9,632.6 484.2,644.2 484.4,648.0" fill="none" stroke="#111" stroke-width="1.55" />
<path d="M539.2,599.8 C539.6,604.0 541.2,616.5 541.5,625.0 C541.8,633.5 540.9,646.7 540.8,651.0" fill="none" stroke="#111" stroke-width="1.55" />
<path d="M593.0,594.0 C593.7,597.5 596.3,606.8 597.0,615.0 C597.7,623.2 597.3,638.3 597.4,643.0" fill="none" stroke="#111" stroke-width="1.55" />
<path d="M632.6,574.2 C634.1,577.5 639.9,586.3 641.4,594.0 C642.9,601.7 641.4,614.6 641.4,620.4 C641.4,626.2 641.4,627.6 641.4,629.0" fill="none" stroke="#111" stroke-width="1.55" />
<path d="M652.4,554.4 C655.3,555.9 665.6,558.4 670.0,563.2 C674.4,568.0 677.3,576.8 678.8,583.0 C680.3,589.2 678.8,597.7 678.8,600.6" fill="none" stroke="#111" stroke-width="1.55" />
<path d="M663.4,536.8 C666.7,537.2 677.3,536.8 683.2,539.0 C689.1,541.2 695.3,545.2 698.6,550.0 C701.9,554.8 702.3,563.6 703.0,567.6 C703.7,571.6 703.0,572.9 703.0,574.0" fill="none" stroke="#111" stroke-width="1.55" />
<path d="M694.2,512.6 C696.8,513.7 705.6,515.9 709.6,519.2 C713.6,522.5 716.6,528.0 718.4,532.4 C720.2,536.8 720.6,541.2 720.6,545.6 C720.6,550.0 718.8,556.6 718.4,558.8" fill="none" stroke="#111" stroke-width="1.55" />
<path d="M696.4,501.6 C700.1,502.3 713.3,503.8 718.4,506.0 C723.5,508.2 725.4,511.1 727.2,514.8 C729.0,518.5 729.0,525.8 729.4,528.0" fill="none" stroke="#111" stroke-width="1.55" />
<path d="M729.4,576.4 C735.3,579.2 734.1,606.2 728.0,608.5 C734.9,611.2 737.4,644.3 731.0,648.0 C737.9,650.6 740.4,682.9 734.0,686.5 C742.3,688.6 746.5,721.2 739.0,725.3 C747.4,726.6 753.3,756.6 746.0,761.0 C755.2,762.7 763.3,800.1 755.6,805.5 C763.8,810.3 759.5,851.0 750.5,854.0 C757.7,862.5 739.1,891.1 728.4,888.0 C729.5,895.6 698.1,919.9 691.0,917.0" fill="none" stroke="#111" stroke-width="1.67"/>
<path d="M641.4,629.0 C637.4,630.8 637.0,650.1 641.0,652.0 C633.2,655.9 634.9,692.8 643.0,696.0 C635.4,699.9 638.7,732.7 647.0,735.0 C639.7,739.4 645.6,770.5 654.0,772.0 C646.8,776.7 653.6,808.6 662.0,810.0 C653.9,812.4 652.2,842.7 660.0,846.0" fill="none" stroke="#111" stroke-width="1.67"/>
<path d="M641.0,652.0 Q651.0,660.0 681.0,655.0" fill="none" stroke="#111" stroke-width="1.49"/>
<path d="M643.0,696.0 Q653.0,704.0 683.0,699.0" fill="none" stroke="#111" stroke-width="1.49"/>
<path d="M647.0,735.0 Q657.0,743.0 687.0,738.0" fill="none" stroke="#111" stroke-width="1.49"/>
<path d="M654.0,772.0 Q664.0,780.0 694.0,775.0" fill="none" stroke="#111" stroke-width="1.49"/>
<path d="M662.0,810.0 Q672.0,818.0 702.0,813.0" fill="none" stroke="#111" stroke-width="1.49"/>
<path d="M728.0,608.5 Q721.0,615.5 700.0,610.5" fill="none" stroke="#111" stroke-width="1.49"/>
<path d="M731.0,648.0 Q724.0,655.0 703.0,650.0" fill="none" stroke="#111" stroke-width="1.49"/>
<path d="M734.0,686.5 Q727.0,693.5 706.0,688.5" fill="none" stroke="#111" stroke-width="1.49"/>
<path d="M739.0,725.3 Q732.0,732.3 711.0,727.3" fill="none" stroke="#111" stroke-width="1.49"/>
<path d="M746.0,761.0 Q739.0,768.0 718.0,763.0" fill="none" stroke="#111" stroke-width="1.49"/>
<path d="M755.6,805.5 Q748.6,812.5 727.6,807.5" fill="none" stroke="#111" stroke-width="1.49"/>
<path d="M750.5,854.0 Q743.5,861.0 722.5,856.0" fill="none" stroke="#111" stroke-width="1.49"/>
<path d="M728.4,888.0 Q722.9,899.0 706.4,894.0" fill="none" stroke="#111" stroke-width="1.49"/>
<path d="M680.8,600.2 L681.7,603.2 L680.6,606.4 L680.8,609.5 L682.1,612.5 L681.5,615.6 L680.9,618.7 L682.4,621.8 L682.4,624.9 L681.4,628.0 L682.4,631.0 L683.2,634.1 L682.0,637.3 L682.4,640.4 L684.0,643.3 L683.5,646.5 L683.5,649.7 L685.2,652.6 L685.4,655.7 L684.8,659.0 L686.2,661.9 L687.1,665.0 L686.3,668.2 L687.2,671.3 L688.7,674.2 L688.0,677.5 L688.2,680.6 L690.0,683.5 L690.1,686.7 L689.7,690.0 L691.3,692.9 L692.1,696.0 L691.4,699.3 L692.5,702.3 L694.0,705.2 L693.3,708.5 L693.8,711.7 L695.5,714.5 L695.6,717.6 L695.6,720.7 L697.6,723.3 L698.4,726.2 L698.0,729.4 L699.5,732.1 L701.0,734.8 L700.6,738.1 L701.4,741.0 L703.5,744.0 L703.6,747.5 L703.9,751.0 L706.0,754.0 L706.7,757.4 L706.5,761.0 L708.2,764.0 L709.5,767.0 L709.1,770.5 L710.1,773.6 L712.0,776.6 L711.7,779.9 L711.8,783.2 L713.7,786.1 L714.0,789.3 L713.6,792.7 L715.1,795.7 L716.0,798.7 L715.2,802.0 L716.1,805.1 L717.6,808.2 L716.5,811.3 L716.2,814.3 L717.5,817.4 L716.9,820.5 L716.0,823.6 L717.1,826.6 L717.3,829.8 L715.4,832.8 L715.4,836.1 L715.6,839.5 L713.8,842.5 L713.0,845.7 L713.6,849.3 L711.6,851.9 L709.6,854.4 L709.4,857.8 L708.1,860.6 L705.7,863.0 L705.1,866.1 L704.4,869.3 L701.9,871.5 L700.7,874.4 L700.5,877.7 L698.4,880.1 L696.5,882.7 L696.3,886.0 L694.8,888.7 L692.5,890.9 L691.3,894.3 L689.8,897.4 L686.8,899.4 L685.0,902.4 L684.0,905.8 " fill="none" stroke="#1a1a1a" stroke-width="1.15"/>
<path d="M687.2,599.8 L688.2,602.9 L687.1,606.0 L687.3,609.1 L688.6,612.1 L688.0,615.2 L687.4,618.3 L688.9,621.3 L688.9,624.3 L687.8,627.5 L688.9,630.5 L689.6,633.5 L688.5,636.6 L688.9,639.7 L690.5,642.6 L690.0,645.8 L689.9,649.0 L691.7,651.8 L691.8,654.9 L691.2,658.2 L692.7,661.1 L693.5,664.1 L692.7,667.3 L693.6,670.3 L695.1,673.2 L694.5,676.5 L694.6,679.6 L696.4,682.4 L696.5,685.6 L696.1,688.8 L697.7,691.7 L698.5,694.8 L697.8,698.1 L698.9,701.0 L700.3,703.9 L699.7,707.2 L700.1,710.3 L701.9,713.1 L702.1,716.5 L702.2,720.0 L704.2,722.9 L705.1,726.1 L704.8,729.7 L706.4,732.7 L708.0,735.7 L707.7,739.3 L708.6,742.6 L710.7,745.6 L710.8,749.2 L711.0,752.7 L713.2,755.7 L713.9,759.1 L713.6,762.6 L715.3,765.6 L716.6,768.7 L716.2,772.2 L717.3,775.3 L719.0,778.4 L718.7,781.8 L718.9,785.1 L720.8,788.1 L721.1,791.4 L720.5,794.8 L722.0,797.9 L722.9,801.2 L722.1,804.6 L723.0,807.8 L724.0,811.0 L722.9,814.2 L722.6,817.4 L723.9,820.7 L723.4,823.9 L722.4,827.1 L723.6,830.4 L723.2,833.4 L721.3,836.1 L721.4,839.2 L721.6,842.3 L719.9,845.0 L719.2,847.9 L719.8,851.3 L717.8,854.0 L715.7,856.6 L715.4,860.1 L714.1,863.1 L711.6,865.6 L711.0,868.9 L710.3,872.0 L707.8,874.4 L706.5,877.3 L706.3,880.6 L704.1,883.1 L702.2,885.7 L702.0,889.1 L700.5,891.9 L698.2,894.1 L697.2,897.2 L695.9,899.9 L693.1,901.7 L691.6,904.3 L690.8,907.4 L688.2,909.3 " fill="none" stroke="#1a1a1a" stroke-width="1.15"/>
<path d="M546.0,846.5 C543.1,847.8 533.2,850.7 528.4,854.2 C523.6,857.7 520.3,862.3 517.4,867.4 C514.5,872.5 513.4,879.5 510.8,885.0 C508.2,890.5 504.4,894.9 502.0,900.4 C499.6,905.9 497.6,911.4 496.5,918.0 C495.4,924.6 495.2,932.7 495.4,940.0 C495.6,947.3 496.5,955.4 497.6,962.0 C498.7,968.6 500.5,975.2 502.0,979.6 C503.5,984.0 505.7,986.9 506.4,988.4" fill="none" stroke="#111" stroke-width="1.67" />
<path d="M568.0,907.0 C567.6,910.7 566.9,921.7 565.8,929.0 C564.7,936.3 563.6,944.0 561.4,951.0 C559.2,958.0 555.9,965.3 552.6,970.8 C549.3,976.3 544.5,980.7 541.6,984.0 C538.7,987.3 536.1,989.5 535.0,990.6" fill="none" stroke="#111" stroke-width="1.67" />
<path d="M524.0,874.0 C524.4,876.9 524.0,886.8 526.2,891.6 C528.4,896.4 535.4,900.8 537.2,902.6" fill="none" stroke="#111" stroke-width="1.26" />
<line x1="500.0" y1="975.0" x2="512.0" y2="960.0" stroke="#8a8a8a" stroke-width="0.50"/>
<line x1="502.0" y1="977.0" x2="514.0" y2="963.0" stroke="#8a8a8a" stroke-width="0.50"/>
<line x1="504.0" y1="979.0" x2="516.0" y2="966.0" stroke="#8a8a8a" stroke-width="0.50"/>
<line x1="506.0" y1="981.0" x2="518.0" y2="969.0" stroke="#8a8a8a" stroke-width="0.50"/>
<line x1="508.0" y1="983.0" x2="520.0" y2="972.0" stroke="#8a8a8a" stroke-width="0.50"/>
<line x1="510.0" y1="985.0" x2="522.0" y2="975.0" stroke="#8a8a8a" stroke-width="0.50"/>
<line x1="545.0" y1="972.0" x2="552.0" y2="985.0" stroke="#8a8a8a" stroke-width="0.50"/>
<line x1="547.5" y1="969.5" x2="554.0" y2="982.5" stroke="#8a8a8a" stroke-width="0.50"/>
<line x1="550.0" y1="967.0" x2="556.0" y2="980.0" stroke="#8a8a8a" stroke-width="0.50"/>
<line x1="552.5" y1="964.5" x2="558.0" y2="977.5" stroke="#8a8a8a" stroke-width="0.50"/>
<line x1="555.0" y1="962.0" x2="560.0" y2="975.0" stroke="#8a8a8a" stroke-width="0.50"/>
<path d="M546.0,846.5 C549.5,839.5 579.1,842.3 581.2,849.8 C583.2,845.9 601.5,846.9 603.0,851.0 C604.9,847.9 621.7,849.5 623.0,853.0 C624.9,849.8 643.4,850.8 645.0,854.2" fill="none" stroke="#111" stroke-width="1.67"/>
<path d="M645.0,854.2 C645.5,853.5 646.9,851.1 648.0,850.0 C649.1,848.9 650.3,848.6 651.6,847.6 C652.9,846.6 654.2,844.9 656.0,844.0 C657.8,843.1 661.5,842.3 662.6,842.0" fill="none" stroke="#111" stroke-width="1.67" />
<path d="M545.6,850.2 L549.3,850.2 L552.5,852.2 L556.1,853.0 L559.8,852.6 L563.2,854.2 L566.3,855.7 L569.9,855.4 L573.2,856.4 L576.2,858.5 L579.3,858.2 L582.4,858.3 L585.1,860.3 L588.0,860.7 L591.2,860.3 L593.9,861.9 L596.8,863.1 L600.1,862.6 L603.0,863.7 L605.7,865.5 L608.9,865.3 L611.8,865.6 L615.1,867.0 L618.4,866.6 L621.8,865.6 L625.1,866.8 L628.4,867.2 L631.7,865.9 L635.0,866.5 " fill="none" stroke="#1a1a1a" stroke-width="1.15"/>
<path d="M546.4,846.8 L549.5,846.7 L552.2,848.6 L555.1,849.2 L558.3,848.6 L561.1,850.1 L563.8,851.4 L567.5,851.1 L570.7,852.1 L573.7,854.2 L577.2,854.2 L580.3,854.3 L583.0,856.2 L585.9,856.6 L589.1,856.2 L591.8,857.8 L594.6,859.0 L598.4,858.6 L601.8,859.8 L605.0,861.8 L608.8,861.6 L612.2,862.1 L615.5,863.5 L618.8,863.1 L622.1,862.1 L625.3,863.3 L628.6,863.7 L631.9,862.4 L635.2,863.0 " fill="none" stroke="#1a1a1a" stroke-width="1.15"/>
<path d="M651.6,847.6 C650.1,850.2 643.9,857.5 642.8,863.0 C641.7,868.5 641.7,876.2 645.0,880.6 C648.3,885.0 655.3,887.9 662.6,889.4 C669.9,890.9 684.6,889.4 689.0,889.4" fill="none" stroke="#111" stroke-width="1.61" />
<path d="M634.0,865.2 C633.3,868.1 629.6,876.6 629.6,882.8 C629.6,889.0 631.1,897.1 634.0,902.6 C636.9,908.1 641.7,913.2 647.2,915.8 C652.7,918.4 663.7,917.6 667.0,918.0" fill="none" stroke="#111" stroke-width="1.61" />
<path d="M598.8,867.4 C597.7,870.0 592.6,877.3 592.2,882.8 C591.8,888.3 593.7,895.3 596.6,900.4 C599.5,905.5 603.6,910.7 609.8,913.6 C616.0,916.5 630.0,917.3 634.0,918.0" fill="none" stroke="#111" stroke-width="1.61" />
<path d="M570.2,867.4 C569.5,870.0 565.8,877.3 565.8,882.8 C565.8,888.3 567.6,895.6 570.2,900.4 C572.8,905.2 576.8,908.8 581.2,911.4 C585.6,914.0 594.0,915.1 596.6,915.8" fill="none" stroke="#111" stroke-width="1.61" />
<path d="M546.0,858.6 C545.5,861.9 542.3,872.2 542.7,878.4 C543.1,884.6 544.0,891.2 548.2,896.0 C552.4,900.8 564.7,905.2 568.0,907.0" fill="none" stroke="#111" stroke-width="1.61" />
<path d="M568.0,907.0 C568.9,912.2 592.9,919.5 596.6,915.8 C599.3,920.6 630.7,922.5 634.0,918.0 C636.6,922.7 664.4,922.7 667.0,918.0 C669.1,921.2 688.4,919.5 690.0,916.0" fill="none" stroke="#111" stroke-width="1.67"/>
<path d="M614.0,404.0 C614.3,402.0 614.3,395.7 616.0,392.0 C617.7,388.3 620.0,385.0 624.0,382.0 C628.0,379.0 634.0,375.8 640.0,374.0 C646.0,372.2 654.0,370.7 660.0,371.0 C666.0,371.3 672.0,373.2 676.0,376.0 C680.0,378.8 682.7,383.7 684.0,388.0 C685.3,392.3 685.3,397.3 684.0,402.0 C682.7,406.7 679.7,412.0 676.0,416.0 C672.3,420.0 668.0,421.5 662.0,426.0 C656.0,430.5 647.0,437.3 640.0,443.0 C633.0,448.7 626.7,454.2 620.0,460.0 C613.3,465.8 605.6,472.0 600.0,477.5 C594.4,483.0 590.4,488.5 586.2,493.2 C582.0,497.9 579.2,501.8 575.0,505.8 C570.8,509.8 565.7,514.0 561.0,517.0 C556.3,520.0 550.8,522.3 547.0,524.0 C543.2,525.7 541.5,526.6 538.0,527.0 C534.5,527.4 529.3,525.6 526.0,526.5 C522.7,527.4 520.7,529.6 518.0,532.6 C515.3,535.6 513.0,541.2 510.0,544.6 C507.0,548.0 504.5,548.6 500.0,553.0 C495.5,557.4 489.0,565.9 483.0,570.8 C477.0,575.7 471.2,579.4 464.0,582.4 C456.8,585.4 448.0,585.4 440.0,588.5 C432.0,591.6 423.7,596.1 416.0,601.0 C408.3,605.9 400.7,612.8 394.0,618.0 C387.3,623.2 381.7,628.0 376.0,632.0 C370.3,636.0 366.0,639.3 360.0,642.0 C354.0,644.7 346.7,646.2 340.0,648.0 C333.3,649.8 325.0,652.3 320.0,653.0 C315.0,653.7 312.2,653.2 310.0,652.0 C307.8,650.8 307.7,649.3 307.0,646.0 C306.3,642.7 306.3,638.0 306.0,632.0 C305.7,626.0 305.2,616.0 305.0,610.0 C304.8,604.0 304.7,598.3 304.6,596.0" fill="none" stroke="#111" stroke-width="1.61" />
<path d="M624.0,392.0 L626.1,388.7 L629.7,387.1 L632.0,384.5 L634.9,382.9 L638.0,383.6 L641.1,384.1 L643.9,382.4 L647.9,381.6 L651.7,381.8 L655.4,381.9 L658.9,382.2 L661.9,384.6 L665.3,384.7 L668.8,383.8 L671.9,385.2 L675.7,387.7 " fill="none" stroke="#111" stroke-width="1.26"/>
<ellipse cx="528.8" cy="1025.4" rx="54.5" ry="36.8" fill="#fff" stroke="#111" stroke-width="1.67"/>
<path d="M520.2,1063 L520.2,1101 M537.5,1063 L537.5,1101 M520.2,1066 Q529,1070 537.5,1066 M520.2,1098 Q529,1102 537.5,1098" fill="none" stroke="#111" stroke-width="1.38"/>
<path d="M525.6,1101 L525.6,1126 Q529,1131 532.8,1126 L532.8,1101" fill="none" stroke="#111" stroke-width="1.26"/>
<circle cx="529.2" cy="1125" r="1.8" fill="none" stroke="#111" stroke-width="0.90"/>
<line x1="505" y1="311.4" x2="597.7" y2="284.4" stroke="#2a2a2a" stroke-width="0.90"/>
<line x1="265" y1="409" x2="365.5" y2="421.7" stroke="#2a2a2a" stroke-width="0.90"/>
<line x1="464" y1="418" x2="768.7" y2="350.3" stroke="#2a2a2a" stroke-width="0.90"/>
<line x1="690" y1="431" x2="818.9" y2="422.3" stroke="#2a2a2a" stroke-width="0.90"/>
<line x1="542.2" y1="472.3" x2="816" y2="466.3" stroke="#2a2a2a" stroke-width="0.90"/>
<line x1="615.6" y1="521.9" x2="801.5" y2="521" stroke="#2a2a2a" stroke-width="0.90"/>
<line x1="604.4" y1="535.9" x2="822.7" y2="536.2" stroke="#2a2a2a" stroke-width="0.90"/>
<line x1="726" y1="546" x2="823.7" y2="562.6" stroke="#2a2a2a" stroke-width="0.90"/>
<line x1="228.7" y1="578" x2="354" y2="593" stroke="#2a2a2a" stroke-width="0.90"/>
<line x1="658" y1="589" x2="780.4" y2="626.9" stroke="#2a2a2a" stroke-width="0.90"/>
<line x1="418" y1="677" x2="826.8" y2="711.3" stroke="#2a2a2a" stroke-width="0.90"/>
<line x1="632" y1="665" x2="826.8" y2="710.4" stroke="#2a2a2a" stroke-width="0.90"/>
<line x1="205" y1="730.4" x2="388" y2="719" stroke="#2a2a2a" stroke-width="0.90"/>
<line x1="466.5" y1="729.5" x2="814.7" y2="821.7" stroke="#2a2a2a" stroke-width="0.90"/>
<line x1="588" y1="728.5" x2="814.7" y2="819" stroke="#2a2a2a" stroke-width="0.90"/>
<line x1="487.5" y1="949" x2="757.5" y2="955" stroke="#2a2a2a" stroke-width="0.90"/>
<line x1="580" y1="939" x2="757.5" y2="952.5" stroke="#2a2a2a" stroke-width="0.90"/>
<line x1="322.5" y1="1036.5" x2="537.5" y2="1025" stroke="#2a2a2a" stroke-width="0.90"/>
<text class="lab" x="600.5" y="285.8" textLength="6" lengthAdjust="spacingAndGlyphs">1</text>
<text class="lab" x="251.9" y="412.8" textLength="8.9" lengthAdjust="spacingAndGlyphs">2</text>
<text class="lab" x="773.5" y="354.7" textLength="7.7" lengthAdjust="spacingAndGlyphs">3</text>
<text class="lab" x="823.3" y="426.5" textLength="7.7" lengthAdjust="spacingAndGlyphs">4</text>
<text class="lab" x="819.5" y="471" textLength="7.7" lengthAdjust="spacingAndGlyphs">5</text>
<text class="lab" x="806" y="525" textLength="7.7" lengthAdjust="spacingAndGlyphs">6</text>
<text class="lab" x="825.3" y="542" textLength="7.7" lengthAdjust="spacingAndGlyphs">7</text>
<text class="lab" x="828.5" y="569.8" textLength="7.8" lengthAdjust="spacingAndGlyphs">8</text>
<text class="lab" x="217.6" y="582.2" textLength="8.4" lengthAdjust="spacingAndGlyphs">9</text>
<text class="lab" x="784.1" y="631.9" textLength="15.2" lengthAdjust="spacingAndGlyphs">10</text>
<text class="lab" x="830.5" y="716" textLength="13.9" lengthAdjust="spacingAndGlyphs">11</text>
<text class="lab" x="185.6" y="736.8" textLength="16.1" lengthAdjust="spacingAndGlyphs">12</text>
<text class="lab" x="817.5" y="826" textLength="14.9" lengthAdjust="spacingAndGlyphs">13</text>
<text class="lab" x="759" y="959" textLength="16" lengthAdjust="spacingAndGlyphs">14</text>
<text class="lab" x="302.5" y="1042.5" textLength="16.5" lengthAdjust="spacingAndGlyphs">15</text>
<g class="san" font-size="14" xml:space="preserve" style="white-space:pre">
<text x="153.3" y="1194.3" textLength="658.5" lengthAdjust="spacingAndGlyphs"><tspan font-weight="bold">Key: 1.</tspan> inferior vena cava &#160;<tspan font-weight="bold">2.</tspan> liver &#160;<tspan font-weight="bold">3.</tspan> adrenals &#160;<tspan font-weight="bold">4.</tspan> spleen &#160;<tspan font-weight="bold">5.</tspan> abdominal aorta &#160;<tspan font-weight="bold">6.</tspan> renal artery &#160;<tspan font-weight="bold">7.</tspan> renal vein</text>
<text x="153" y="1212.4" textLength="631.5" lengthAdjust="spacingAndGlyphs"><tspan font-weight="bold">8.</tspan> splenic flexure of colon &#160;<tspan font-weight="bold">9.</tspan> hepatic flexure of colon &#160;<tspan font-weight="bold">10.</tspan> transverse colon &#160;<tspan font-weight="bold">11.</tspan> quadratus lumborum</text>
<text x="153" y="1230.4" textLength="395" lengthAdjust="spacingAndGlyphs"><tspan font-weight="bold">12.</tspan> ascending colon &#160;<tspan font-weight="bold">13.</tspan> psoas major &#160;<tspan font-weight="bold">14.</tspan> ureters &#160;<tspan font-weight="bold">15.</tspan> bladder</text>
</g>
</svg>
</body></html>
